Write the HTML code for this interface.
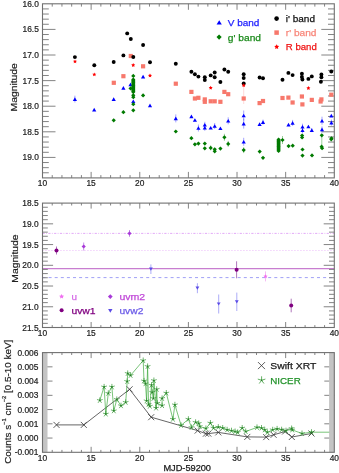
<!DOCTYPE html>
<html><head><meta charset="utf-8"><style>
html,body{margin:0;padding:0;background:#fff;width:339px;height:473px;overflow:hidden}
svg{display:block;will-change:transform;font-family:"Liberation Sans",sans-serif}
</style></head><body>
<svg width="339" height="473" viewBox="0 0 339 473" font-family="Liberation Sans, sans-serif"><g><rect width="339" height="473" fill="#fff"/><line x1="52.23" y1="3.80" x2="52.23" y2="6.60" stroke="#848484" stroke-width="1" />
<line x1="52.23" y1="177.90" x2="52.23" y2="175.10" stroke="#848484" stroke-width="1" />
<line x1="61.95" y1="3.80" x2="61.95" y2="6.60" stroke="#848484" stroke-width="1" />
<line x1="61.95" y1="177.90" x2="61.95" y2="175.10" stroke="#848484" stroke-width="1" />
<line x1="71.68" y1="3.80" x2="71.68" y2="6.60" stroke="#848484" stroke-width="1" />
<line x1="71.68" y1="177.90" x2="71.68" y2="175.10" stroke="#848484" stroke-width="1" />
<line x1="81.41" y1="3.80" x2="81.41" y2="6.60" stroke="#848484" stroke-width="1" />
<line x1="81.41" y1="177.90" x2="81.41" y2="175.10" stroke="#848484" stroke-width="1" />
<line x1="91.13" y1="3.80" x2="91.13" y2="9.80" stroke="#848484" stroke-width="1" />
<line x1="91.13" y1="177.90" x2="91.13" y2="171.90" stroke="#848484" stroke-width="1" />
<line x1="100.86" y1="3.80" x2="100.86" y2="6.60" stroke="#848484" stroke-width="1" />
<line x1="100.86" y1="177.90" x2="100.86" y2="175.10" stroke="#848484" stroke-width="1" />
<line x1="110.59" y1="3.80" x2="110.59" y2="6.60" stroke="#848484" stroke-width="1" />
<line x1="110.59" y1="177.90" x2="110.59" y2="175.10" stroke="#848484" stroke-width="1" />
<line x1="120.31" y1="3.80" x2="120.31" y2="6.60" stroke="#848484" stroke-width="1" />
<line x1="120.31" y1="177.90" x2="120.31" y2="175.10" stroke="#848484" stroke-width="1" />
<line x1="130.04" y1="3.80" x2="130.04" y2="6.60" stroke="#848484" stroke-width="1" />
<line x1="130.04" y1="177.90" x2="130.04" y2="175.10" stroke="#848484" stroke-width="1" />
<line x1="139.77" y1="3.80" x2="139.77" y2="9.80" stroke="#848484" stroke-width="1" />
<line x1="139.77" y1="177.90" x2="139.77" y2="171.90" stroke="#848484" stroke-width="1" />
<line x1="149.49" y1="3.80" x2="149.49" y2="6.60" stroke="#848484" stroke-width="1" />
<line x1="149.49" y1="177.90" x2="149.49" y2="175.10" stroke="#848484" stroke-width="1" />
<line x1="159.22" y1="3.80" x2="159.22" y2="6.60" stroke="#848484" stroke-width="1" />
<line x1="159.22" y1="177.90" x2="159.22" y2="175.10" stroke="#848484" stroke-width="1" />
<line x1="168.95" y1="3.80" x2="168.95" y2="6.60" stroke="#848484" stroke-width="1" />
<line x1="168.95" y1="177.90" x2="168.95" y2="175.10" stroke="#848484" stroke-width="1" />
<line x1="178.67" y1="3.80" x2="178.67" y2="6.60" stroke="#848484" stroke-width="1" />
<line x1="178.67" y1="177.90" x2="178.67" y2="175.10" stroke="#848484" stroke-width="1" />
<line x1="188.40" y1="3.80" x2="188.40" y2="9.80" stroke="#848484" stroke-width="1" />
<line x1="188.40" y1="177.90" x2="188.40" y2="171.90" stroke="#848484" stroke-width="1" />
<line x1="198.13" y1="3.80" x2="198.13" y2="6.60" stroke="#848484" stroke-width="1" />
<line x1="198.13" y1="177.90" x2="198.13" y2="175.10" stroke="#848484" stroke-width="1" />
<line x1="207.85" y1="3.80" x2="207.85" y2="6.60" stroke="#848484" stroke-width="1" />
<line x1="207.85" y1="177.90" x2="207.85" y2="175.10" stroke="#848484" stroke-width="1" />
<line x1="217.58" y1="3.80" x2="217.58" y2="6.60" stroke="#848484" stroke-width="1" />
<line x1="217.58" y1="177.90" x2="217.58" y2="175.10" stroke="#848484" stroke-width="1" />
<line x1="227.31" y1="3.80" x2="227.31" y2="6.60" stroke="#848484" stroke-width="1" />
<line x1="227.31" y1="177.90" x2="227.31" y2="175.10" stroke="#848484" stroke-width="1" />
<line x1="237.03" y1="3.80" x2="237.03" y2="9.80" stroke="#848484" stroke-width="1" />
<line x1="237.03" y1="177.90" x2="237.03" y2="171.90" stroke="#848484" stroke-width="1" />
<line x1="246.76" y1="3.80" x2="246.76" y2="6.60" stroke="#848484" stroke-width="1" />
<line x1="246.76" y1="177.90" x2="246.76" y2="175.10" stroke="#848484" stroke-width="1" />
<line x1="256.49" y1="3.80" x2="256.49" y2="6.60" stroke="#848484" stroke-width="1" />
<line x1="256.49" y1="177.90" x2="256.49" y2="175.10" stroke="#848484" stroke-width="1" />
<line x1="266.21" y1="3.80" x2="266.21" y2="6.60" stroke="#848484" stroke-width="1" />
<line x1="266.21" y1="177.90" x2="266.21" y2="175.10" stroke="#848484" stroke-width="1" />
<line x1="275.94" y1="3.80" x2="275.94" y2="6.60" stroke="#848484" stroke-width="1" />
<line x1="275.94" y1="177.90" x2="275.94" y2="175.10" stroke="#848484" stroke-width="1" />
<line x1="285.67" y1="3.80" x2="285.67" y2="9.80" stroke="#848484" stroke-width="1" />
<line x1="285.67" y1="177.90" x2="285.67" y2="171.90" stroke="#848484" stroke-width="1" />
<line x1="295.39" y1="3.80" x2="295.39" y2="6.60" stroke="#848484" stroke-width="1" />
<line x1="295.39" y1="177.90" x2="295.39" y2="175.10" stroke="#848484" stroke-width="1" />
<line x1="305.12" y1="3.80" x2="305.12" y2="6.60" stroke="#848484" stroke-width="1" />
<line x1="305.12" y1="177.90" x2="305.12" y2="175.10" stroke="#848484" stroke-width="1" />
<line x1="314.85" y1="3.80" x2="314.85" y2="6.60" stroke="#848484" stroke-width="1" />
<line x1="314.85" y1="177.90" x2="314.85" y2="175.10" stroke="#848484" stroke-width="1" />
<line x1="324.57" y1="3.80" x2="324.57" y2="6.60" stroke="#848484" stroke-width="1" />
<line x1="324.57" y1="177.90" x2="324.57" y2="175.10" stroke="#848484" stroke-width="1" />
<line x1="42.50" y1="8.92" x2="48.80" y2="8.92" stroke="#848484" stroke-width="1" />
<line x1="334.30" y1="8.92" x2="328.00" y2="8.92" stroke="#848484" stroke-width="1" />
<line x1="42.50" y1="14.04" x2="48.80" y2="14.04" stroke="#848484" stroke-width="1" />
<line x1="334.30" y1="14.04" x2="328.00" y2="14.04" stroke="#848484" stroke-width="1" />
<line x1="42.50" y1="19.16" x2="48.80" y2="19.16" stroke="#848484" stroke-width="1" />
<line x1="334.30" y1="19.16" x2="328.00" y2="19.16" stroke="#848484" stroke-width="1" />
<line x1="42.50" y1="24.28" x2="48.80" y2="24.28" stroke="#848484" stroke-width="1" />
<line x1="334.30" y1="24.28" x2="328.00" y2="24.28" stroke="#848484" stroke-width="1" />
<line x1="42.50" y1="29.40" x2="55.50" y2="29.40" stroke="#848484" stroke-width="1" />
<line x1="334.30" y1="29.40" x2="321.30" y2="29.40" stroke="#848484" stroke-width="1" />
<line x1="42.50" y1="34.52" x2="48.80" y2="34.52" stroke="#848484" stroke-width="1" />
<line x1="334.30" y1="34.52" x2="328.00" y2="34.52" stroke="#848484" stroke-width="1" />
<line x1="42.50" y1="39.64" x2="48.80" y2="39.64" stroke="#848484" stroke-width="1" />
<line x1="334.30" y1="39.64" x2="328.00" y2="39.64" stroke="#848484" stroke-width="1" />
<line x1="42.50" y1="44.76" x2="48.80" y2="44.76" stroke="#848484" stroke-width="1" />
<line x1="334.30" y1="44.76" x2="328.00" y2="44.76" stroke="#848484" stroke-width="1" />
<line x1="42.50" y1="49.89" x2="48.80" y2="49.89" stroke="#848484" stroke-width="1" />
<line x1="334.30" y1="49.89" x2="328.00" y2="49.89" stroke="#848484" stroke-width="1" />
<line x1="42.50" y1="55.01" x2="55.50" y2="55.01" stroke="#848484" stroke-width="1" />
<line x1="334.30" y1="55.01" x2="321.30" y2="55.01" stroke="#848484" stroke-width="1" />
<line x1="42.50" y1="60.13" x2="48.80" y2="60.13" stroke="#848484" stroke-width="1" />
<line x1="334.30" y1="60.13" x2="328.00" y2="60.13" stroke="#848484" stroke-width="1" />
<line x1="42.50" y1="65.25" x2="48.80" y2="65.25" stroke="#848484" stroke-width="1" />
<line x1="334.30" y1="65.25" x2="328.00" y2="65.25" stroke="#848484" stroke-width="1" />
<line x1="42.50" y1="70.37" x2="48.80" y2="70.37" stroke="#848484" stroke-width="1" />
<line x1="334.30" y1="70.37" x2="328.00" y2="70.37" stroke="#848484" stroke-width="1" />
<line x1="42.50" y1="75.49" x2="48.80" y2="75.49" stroke="#848484" stroke-width="1" />
<line x1="334.30" y1="75.49" x2="328.00" y2="75.49" stroke="#848484" stroke-width="1" />
<line x1="42.50" y1="80.61" x2="55.50" y2="80.61" stroke="#848484" stroke-width="1" />
<line x1="334.30" y1="80.61" x2="321.30" y2="80.61" stroke="#848484" stroke-width="1" />
<line x1="42.50" y1="85.73" x2="48.80" y2="85.73" stroke="#848484" stroke-width="1" />
<line x1="334.30" y1="85.73" x2="328.00" y2="85.73" stroke="#848484" stroke-width="1" />
<line x1="42.50" y1="90.85" x2="48.80" y2="90.85" stroke="#848484" stroke-width="1" />
<line x1="334.30" y1="90.85" x2="328.00" y2="90.85" stroke="#848484" stroke-width="1" />
<line x1="42.50" y1="95.97" x2="48.80" y2="95.97" stroke="#848484" stroke-width="1" />
<line x1="334.30" y1="95.97" x2="328.00" y2="95.97" stroke="#848484" stroke-width="1" />
<line x1="42.50" y1="101.09" x2="48.80" y2="101.09" stroke="#848484" stroke-width="1" />
<line x1="334.30" y1="101.09" x2="328.00" y2="101.09" stroke="#848484" stroke-width="1" />
<line x1="42.50" y1="106.21" x2="55.50" y2="106.21" stroke="#848484" stroke-width="1" />
<line x1="334.30" y1="106.21" x2="321.30" y2="106.21" stroke="#848484" stroke-width="1" />
<line x1="42.50" y1="111.33" x2="48.80" y2="111.33" stroke="#848484" stroke-width="1" />
<line x1="334.30" y1="111.33" x2="328.00" y2="111.33" stroke="#848484" stroke-width="1" />
<line x1="42.50" y1="116.45" x2="48.80" y2="116.45" stroke="#848484" stroke-width="1" />
<line x1="334.30" y1="116.45" x2="328.00" y2="116.45" stroke="#848484" stroke-width="1" />
<line x1="42.50" y1="121.57" x2="48.80" y2="121.57" stroke="#848484" stroke-width="1" />
<line x1="334.30" y1="121.57" x2="328.00" y2="121.57" stroke="#848484" stroke-width="1" />
<line x1="42.50" y1="126.69" x2="48.80" y2="126.69" stroke="#848484" stroke-width="1" />
<line x1="334.30" y1="126.69" x2="328.00" y2="126.69" stroke="#848484" stroke-width="1" />
<line x1="42.50" y1="131.81" x2="55.50" y2="131.81" stroke="#848484" stroke-width="1" />
<line x1="334.30" y1="131.81" x2="321.30" y2="131.81" stroke="#848484" stroke-width="1" />
<line x1="42.50" y1="136.94" x2="48.80" y2="136.94" stroke="#848484" stroke-width="1" />
<line x1="334.30" y1="136.94" x2="328.00" y2="136.94" stroke="#848484" stroke-width="1" />
<line x1="42.50" y1="142.06" x2="48.80" y2="142.06" stroke="#848484" stroke-width="1" />
<line x1="334.30" y1="142.06" x2="328.00" y2="142.06" stroke="#848484" stroke-width="1" />
<line x1="42.50" y1="147.18" x2="48.80" y2="147.18" stroke="#848484" stroke-width="1" />
<line x1="334.30" y1="147.18" x2="328.00" y2="147.18" stroke="#848484" stroke-width="1" />
<line x1="42.50" y1="152.30" x2="48.80" y2="152.30" stroke="#848484" stroke-width="1" />
<line x1="334.30" y1="152.30" x2="328.00" y2="152.30" stroke="#848484" stroke-width="1" />
<line x1="42.50" y1="157.42" x2="55.50" y2="157.42" stroke="#848484" stroke-width="1" />
<line x1="334.30" y1="157.42" x2="321.30" y2="157.42" stroke="#848484" stroke-width="1" />
<line x1="42.50" y1="162.54" x2="48.80" y2="162.54" stroke="#848484" stroke-width="1" />
<line x1="334.30" y1="162.54" x2="328.00" y2="162.54" stroke="#848484" stroke-width="1" />
<line x1="42.50" y1="167.66" x2="48.80" y2="167.66" stroke="#848484" stroke-width="1" />
<line x1="334.30" y1="167.66" x2="328.00" y2="167.66" stroke="#848484" stroke-width="1" />
<line x1="42.50" y1="172.78" x2="48.80" y2="172.78" stroke="#848484" stroke-width="1" />
<line x1="334.30" y1="172.78" x2="328.00" y2="172.78" stroke="#848484" stroke-width="1" />
<text x="38.80" y="6.80" font-size="8.4" text-anchor="end" fill="#222" stroke="#222" stroke-width="0.2">16.0</text>
<text x="38.80" y="32.40" font-size="8.4" text-anchor="end" fill="#222" stroke="#222" stroke-width="0.2">16.5</text>
<text x="38.80" y="58.01" font-size="8.4" text-anchor="end" fill="#222" stroke="#222" stroke-width="0.2">17.0</text>
<text x="38.80" y="83.61" font-size="8.4" text-anchor="end" fill="#222" stroke="#222" stroke-width="0.2">17.5</text>
<text x="38.80" y="109.21" font-size="8.4" text-anchor="end" fill="#222" stroke="#222" stroke-width="0.2">18.0</text>
<text x="38.80" y="134.81" font-size="8.4" text-anchor="end" fill="#222" stroke="#222" stroke-width="0.2">18.5</text>
<text x="38.80" y="160.42" font-size="8.4" text-anchor="end" fill="#222" stroke="#222" stroke-width="0.2">19.0</text>
<rect x="42.50" y="3.80" width="291.80" height="174.10" fill="none" stroke="#707070" stroke-width="1.1"/>
<text x="42.50" y="185.80" font-size="8.4" text-anchor="middle" fill="#222" stroke="#222" stroke-width="0.2">10</text>
<text x="91.13" y="185.80" font-size="8.4" text-anchor="middle" fill="#222" stroke="#222" stroke-width="0.2">15</text>
<text x="139.77" y="185.80" font-size="8.4" text-anchor="middle" fill="#222" stroke="#222" stroke-width="0.2">20</text>
<text x="188.40" y="185.80" font-size="8.4" text-anchor="middle" fill="#222" stroke="#222" stroke-width="0.2">25</text>
<text x="237.03" y="185.80" font-size="8.4" text-anchor="middle" fill="#222" stroke="#222" stroke-width="0.2">30</text>
<text x="285.67" y="185.80" font-size="8.4" text-anchor="middle" fill="#222" stroke="#222" stroke-width="0.2">35</text>
<text x="334.30" y="185.80" font-size="8.4" text-anchor="middle" fill="#222" stroke="#222" stroke-width="0.2">40</text>
<line x1="243.70" y1="85.40" x2="243.70" y2="104.00" stroke="#ff7070" stroke-width="0.8" stroke-opacity="0.35"/>
<line x1="321.80" y1="135.30" x2="321.80" y2="148.00" stroke="#2a9a2a" stroke-width="0.8" stroke-opacity="0.6"/>
<line x1="74.90" y1="95.70" x2="74.90" y2="102.50" stroke="#4040ff" stroke-width="0.8" stroke-opacity="0.6"/>
<line x1="175.80" y1="114.40" x2="175.80" y2="122.40" stroke="#4040ff" stroke-width="0.8" stroke-opacity="0.6"/>
<line x1="198.40" y1="124.50" x2="198.40" y2="131.50" stroke="#4040ff" stroke-width="0.8" stroke-opacity="0.6"/>
<line x1="204.80" y1="121.80" x2="204.80" y2="127.80" stroke="#4040ff" stroke-width="0.8" stroke-opacity="0.6"/>
<line x1="204.80" y1="124.80" x2="204.80" y2="130.80" stroke="#4040ff" stroke-width="0.8" stroke-opacity="0.6"/>
<line x1="214.70" y1="123.00" x2="214.70" y2="129.00" stroke="#4040ff" stroke-width="0.8" stroke-opacity="0.6"/>
<line x1="228.20" y1="117.30" x2="228.20" y2="124.30" stroke="#4040ff" stroke-width="0.8" stroke-opacity="0.6"/>
<line x1="243.70" y1="110.50" x2="243.70" y2="120.50" stroke="#4040ff" stroke-width="0.8" stroke-opacity="0.6"/>
<line x1="243.70" y1="118.60" x2="243.70" y2="128.60" stroke="#4040ff" stroke-width="0.8" stroke-opacity="0.6"/>
<line x1="243.70" y1="137.80" x2="243.70" y2="145.80" stroke="#4040ff" stroke-width="0.8" stroke-opacity="0.6"/>
<line x1="263.00" y1="119.60" x2="263.00" y2="124.60" stroke="#4040ff" stroke-width="0.8" stroke-opacity="0.6"/>
<line x1="292.60" y1="119.90" x2="292.60" y2="125.90" stroke="#4040ff" stroke-width="0.8" stroke-opacity="0.6"/>
<line x1="302.50" y1="123.70" x2="302.50" y2="129.70" stroke="#4040ff" stroke-width="0.8" stroke-opacity="0.6"/>
<line x1="302.50" y1="127.30" x2="302.50" y2="133.30" stroke="#4040ff" stroke-width="0.8" stroke-opacity="0.6"/>
<line x1="311.80" y1="128.10" x2="311.80" y2="132.10" stroke="#4040ff" stroke-width="0.8" stroke-opacity="0.6"/>
<line x1="322.00" y1="116.70" x2="322.00" y2="124.70" stroke="#4040ff" stroke-width="0.8" stroke-opacity="0.6"/>
<line x1="322.00" y1="126.40" x2="322.00" y2="132.40" stroke="#4040ff" stroke-width="0.8" stroke-opacity="0.6"/>
<line x1="331.40" y1="119.60" x2="331.40" y2="125.60" stroke="#4040ff" stroke-width="0.8" stroke-opacity="0.6"/>
<line x1="210.70" y1="145.40" x2="210.70" y2="150.40" stroke="#2a9a2a" stroke-width="0.8" stroke-opacity="0.6"/>
<line x1="224.40" y1="133.80" x2="224.40" y2="140.80" stroke="#2a9a2a" stroke-width="0.8" stroke-opacity="0.6"/>
<line x1="228.20" y1="140.90" x2="228.20" y2="146.90" stroke="#2a9a2a" stroke-width="0.8" stroke-opacity="0.6"/>
<line x1="243.70" y1="147.10" x2="243.70" y2="153.10" stroke="#2a9a2a" stroke-width="0.8" stroke-opacity="0.6"/>
<line x1="282.50" y1="136.00" x2="282.50" y2="144.00" stroke="#2a9a2a" stroke-width="0.8" stroke-opacity="0.6"/>
<rect x="111.70" y="80.70" width="4.2" height="4.2" fill="#f7786c"/>
<rect x="121.30" y="74.10" width="4.2" height="4.2" fill="#f7786c"/>
<rect x="128.70" y="53.90" width="4.2" height="4.2" fill="#f7786c"/>
<rect x="141.00" y="64.20" width="4.2" height="4.2" fill="#f7786c"/>
<rect x="173.70" y="81.60" width="4.2" height="4.2" fill="#f7786c"/>
<rect x="189.30" y="89.80" width="4.2" height="4.2" fill="#f7786c"/>
<rect x="192.80" y="96.40" width="4.2" height="4.2" fill="#f7786c"/>
<rect x="196.30" y="95.70" width="4.2" height="4.2" fill="#f7786c"/>
<rect x="202.70" y="97.30" width="4.2" height="4.2" fill="#f7786c"/>
<rect x="202.70" y="99.70" width="4.2" height="4.2" fill="#f7786c"/>
<rect x="208.60" y="99.20" width="4.2" height="4.2" fill="#f7786c"/>
<rect x="212.60" y="99.20" width="4.2" height="4.2" fill="#f7786c"/>
<rect x="218.30" y="99.70" width="4.2" height="4.2" fill="#f7786c"/>
<rect x="222.30" y="89.80" width="4.2" height="4.2" fill="#f7786c"/>
<rect x="226.10" y="92.10" width="4.2" height="4.2" fill="#f7786c"/>
<rect x="241.60" y="96.40" width="4.2" height="4.2" fill="#f7786c"/>
<rect x="257.50" y="101.00" width="4.2" height="4.2" fill="#f7786c"/>
<rect x="260.90" y="98.90" width="4.2" height="4.2" fill="#f7786c"/>
<rect x="280.40" y="95.90" width="4.2" height="4.2" fill="#f7786c"/>
<rect x="286.30" y="95.50" width="4.2" height="4.2" fill="#f7786c"/>
<rect x="290.50" y="100.40" width="4.2" height="4.2" fill="#f7786c"/>
<rect x="299.80" y="94.40" width="4.2" height="4.2" fill="#f7786c"/>
<rect x="300.30" y="102.30" width="4.2" height="4.2" fill="#f7786c"/>
<rect x="309.70" y="97.80" width="4.2" height="4.2" fill="#f7786c"/>
<rect x="319.30" y="97.30" width="4.2" height="4.2" fill="#f7786c"/>
<rect x="318.50" y="99.40" width="4.2" height="4.2" fill="#f7786c"/>
<rect x="329.20" y="92.60" width="4.2" height="4.2" fill="#f7786c"/>
<circle cx="74.90" cy="57.10" r="1.95" fill="#000"/>
<circle cx="94.30" cy="65.20" r="1.95" fill="#000"/>
<circle cx="113.70" cy="62.00" r="1.95" fill="#000"/>
<circle cx="123.40" cy="55.40" r="1.95" fill="#000"/>
<circle cx="127.20" cy="33.40" r="1.95" fill="#000"/>
<circle cx="130.80" cy="39.00" r="1.95" fill="#000"/>
<circle cx="133.30" cy="57.00" r="1.95" fill="#000"/>
<circle cx="143.10" cy="45.00" r="1.95" fill="#000"/>
<circle cx="150.00" cy="62.20" r="1.95" fill="#000"/>
<circle cx="175.80" cy="63.70" r="1.95" fill="#000"/>
<circle cx="191.40" cy="71.80" r="1.95" fill="#000"/>
<circle cx="194.90" cy="74.20" r="1.95" fill="#000"/>
<circle cx="198.40" cy="76.60" r="1.95" fill="#000"/>
<circle cx="204.80" cy="77.30" r="1.95" fill="#000"/>
<circle cx="204.80" cy="80.10" r="1.95" fill="#000"/>
<circle cx="210.70" cy="75.40" r="1.95" fill="#000"/>
<circle cx="214.70" cy="72.50" r="1.95" fill="#000"/>
<circle cx="214.70" cy="77.30" r="1.95" fill="#000"/>
<circle cx="220.40" cy="82.00" r="1.95" fill="#000"/>
<circle cx="224.40" cy="69.50" r="1.95" fill="#000"/>
<circle cx="228.20" cy="71.80" r="1.95" fill="#000"/>
<circle cx="243.70" cy="74.30" r="1.95" fill="#000"/>
<circle cx="243.70" cy="78.00" r="1.95" fill="#000"/>
<circle cx="243.70" cy="83.40" r="1.95" fill="#000"/>
<circle cx="259.60" cy="77.50" r="1.95" fill="#000"/>
<circle cx="263.00" cy="78.30" r="1.95" fill="#000"/>
<circle cx="282.50" cy="79.80" r="1.95" fill="#000"/>
<circle cx="288.40" cy="72.90" r="1.95" fill="#000"/>
<circle cx="292.60" cy="75.10" r="1.95" fill="#000"/>
<circle cx="301.90" cy="73.80" r="1.95" fill="#000"/>
<circle cx="301.90" cy="77.00" r="1.95" fill="#000"/>
<circle cx="302.40" cy="79.50" r="1.95" fill="#000"/>
<circle cx="308.40" cy="78.90" r="1.95" fill="#000"/>
<circle cx="311.80" cy="76.40" r="1.95" fill="#000"/>
<circle cx="321.40" cy="74.50" r="1.95" fill="#000"/>
<circle cx="321.40" cy="77.20" r="1.95" fill="#000"/>
<circle cx="320.90" cy="81.80" r="1.95" fill="#000"/>
<circle cx="331.30" cy="71.50" r="1.95" fill="#000"/>
<polygon points="75.00,59.40 75.62,60.65 77.00,60.85 76.00,61.82 76.23,63.20 75.00,62.55 73.77,63.20 74.00,61.82 73.00,60.85 74.38,60.65" fill="#ff0000"/>
<polygon points="94.30,72.40 94.92,73.65 96.30,73.85 95.30,74.82 95.53,76.20 94.30,75.55 93.07,76.20 93.30,74.82 92.30,73.85 93.68,73.65" fill="#ff0000"/>
<polygon points="133.20,63.10 133.82,64.35 135.20,64.55 134.20,65.52 134.43,66.90 133.20,66.25 131.97,66.90 132.20,65.52 131.20,64.55 132.58,64.35" fill="#ff0000"/>
<polygon points="150.00,73.50 150.62,74.75 152.00,74.95 151.00,75.92 151.23,77.30 150.00,76.65 148.77,77.30 149.00,75.92 148.00,74.95 149.38,74.75" fill="#ff0000"/>
<polygon points="210.70,85.80 211.32,87.05 212.70,87.25 211.70,88.22 211.93,89.60 210.70,88.95 209.47,89.60 209.70,88.22 208.70,87.25 210.08,87.05" fill="#ff0000"/>
<polygon points="243.70,83.30 244.32,84.55 245.70,84.75 244.70,85.72 244.93,87.10 243.70,86.45 242.47,87.10 242.70,85.72 241.70,84.75 243.08,84.55" fill="#ff0000"/>
<polygon points="308.40,86.10 309.02,87.35 310.40,87.55 309.40,88.52 309.63,89.90 308.40,89.25 307.17,89.90 307.40,88.52 306.40,87.55 307.78,87.35" fill="#ff0000"/>
<polygon points="72.80,100.88 77.00,100.88 74.90,97.31" fill="#0000ff"/>
<polygon points="92.10,111.38 96.30,111.38 94.20,107.81" fill="#0000ff"/>
<polygon points="111.60,100.88 115.80,100.88 113.70,97.31" fill="#0000ff"/>
<polygon points="121.30,89.69 125.50,89.69 123.40,86.12" fill="#0000ff"/>
<polygon points="128.40,86.19 132.60,86.19 130.50,82.62" fill="#0000ff"/>
<polygon points="131.20,102.98 135.40,102.98 133.30,99.42" fill="#0000ff"/>
<polygon points="141.00,78.38 145.20,78.38 143.10,74.81" fill="#0000ff"/>
<polygon points="147.90,107.19 152.10,107.19 150.00,103.62" fill="#0000ff"/>
<polygon points="173.70,120.19 177.90,120.19 175.80,116.62" fill="#0000ff"/>
<polygon points="189.30,118.19 193.50,118.19 191.40,114.62" fill="#0000ff"/>
<polygon points="192.80,121.78 197.00,121.78 194.90,118.22" fill="#0000ff"/>
<polygon points="196.30,129.78 200.50,129.78 198.40,126.22" fill="#0000ff"/>
<polygon points="202.70,126.58 206.90,126.58 204.80,123.02" fill="#0000ff"/>
<polygon points="202.70,129.59 206.90,129.59 204.80,126.02" fill="#0000ff"/>
<polygon points="208.60,129.59 212.80,129.59 210.70,126.02" fill="#0000ff"/>
<polygon points="212.60,127.78 216.80,127.78 214.70,124.22" fill="#0000ff"/>
<polygon points="218.30,130.09 222.50,130.09 220.40,126.52" fill="#0000ff"/>
<polygon points="226.10,122.58 230.30,122.58 228.20,119.02" fill="#0000ff"/>
<polygon points="241.60,117.28 245.80,117.28 243.70,113.72" fill="#0000ff"/>
<polygon points="241.60,125.38 245.80,125.38 243.70,121.81" fill="#0000ff"/>
<polygon points="241.60,143.59 245.80,143.59 243.70,140.02" fill="#0000ff"/>
<polygon points="257.50,125.88 261.70,125.88 259.60,122.31" fill="#0000ff"/>
<polygon points="260.90,123.88 265.10,123.88 263.00,120.31" fill="#0000ff"/>
<polygon points="286.40,126.38 290.60,126.38 288.50,122.81" fill="#0000ff"/>
<polygon points="290.50,124.69 294.70,124.69 292.60,121.12" fill="#0000ff"/>
<polygon points="300.40,128.49 304.60,128.49 302.50,124.92" fill="#0000ff"/>
<polygon points="300.40,132.09 304.60,132.09 302.50,128.52" fill="#0000ff"/>
<polygon points="306.30,128.28 310.50,128.28 308.40,124.72" fill="#0000ff"/>
<polygon points="309.70,131.88 313.90,131.88 311.80,128.31" fill="#0000ff"/>
<polygon points="319.90,122.48 324.10,122.48 322.00,118.92" fill="#0000ff"/>
<polygon points="319.90,131.19 324.10,131.19 322.00,127.62" fill="#0000ff"/>
<polygon points="329.30,124.38 333.50,124.38 331.40,120.81" fill="#0000ff"/>
<polygon points="329.20,117.38 333.40,117.38 331.30,113.81" fill="#0000ff"/>
<polygon points="113.70,118.20 115.80,120.30 113.70,122.40 111.60,120.30" fill="#007a00"/>
<polygon points="123.40,110.10 125.50,112.20 123.40,114.30 121.30,112.20" fill="#007a00"/>
<polygon points="130.60,86.30 132.70,88.40 130.60,90.50 128.50,88.40" fill="#007a00"/>
<polygon points="133.30,73.80 135.40,75.90 133.30,78.00 131.20,75.90" fill="#007a00"/>
<polygon points="133.30,77.40 135.40,79.50 133.30,81.60 131.20,79.50" fill="#007a00"/>
<polygon points="133.30,78.30 135.40,80.40 133.30,82.50 131.20,80.40" fill="#007a00"/>
<polygon points="133.30,79.20 135.40,81.30 133.30,83.40 131.20,81.30" fill="#007a00"/>
<polygon points="133.30,80.10 135.40,82.20 133.30,84.30 131.20,82.20" fill="#007a00"/>
<polygon points="133.30,81.00 135.40,83.10 133.30,85.20 131.20,83.10" fill="#007a00"/>
<polygon points="133.30,81.90 135.40,84.00 133.30,86.10 131.20,84.00" fill="#007a00"/>
<polygon points="133.30,82.80 135.40,84.90 133.30,87.00 131.20,84.90" fill="#007a00"/>
<polygon points="133.30,83.70 135.40,85.80 133.30,87.90 131.20,85.80" fill="#007a00"/>
<polygon points="133.30,84.60 135.40,86.70 133.30,88.80 131.20,86.70" fill="#007a00"/>
<polygon points="133.30,85.50 135.40,87.60 133.30,89.70 131.20,87.60" fill="#007a00"/>
<polygon points="133.30,86.40 135.40,88.50 133.30,90.60 131.20,88.50" fill="#007a00"/>
<polygon points="133.30,87.30 135.40,89.40 133.30,91.50 131.20,89.40" fill="#007a00"/>
<polygon points="133.30,88.20 135.40,90.30 133.30,92.40 131.20,90.30" fill="#007a00"/>
<polygon points="133.30,89.10 135.40,91.20 133.30,93.30 131.20,91.20" fill="#007a00"/>
<polygon points="133.30,90.00 135.40,92.10 133.30,94.20 131.20,92.10" fill="#007a00"/>
<polygon points="133.30,93.20 135.40,95.30 133.30,97.40 131.20,95.30" fill="#007a00"/>
<polygon points="133.30,95.10 135.40,97.20 133.30,99.30 131.20,97.20" fill="#007a00"/>
<polygon points="133.30,102.10 135.40,104.20 133.30,106.30 131.20,104.20" fill="#007a00"/>
<polygon points="133.30,108.20 135.40,110.30 133.30,112.40 131.20,110.30" fill="#007a00"/>
<polygon points="143.10,93.30 145.20,95.40 143.10,97.50 141.00,95.40" fill="#007a00"/>
<polygon points="175.80,129.40 177.90,131.50 175.80,133.60 173.70,131.50" fill="#007a00"/>
<polygon points="191.40,136.10 193.50,138.20 191.40,140.30 189.30,138.20" fill="#007a00"/>
<polygon points="194.90,142.20 197.00,144.30 194.90,146.40 192.80,144.30" fill="#007a00"/>
<polygon points="198.40,141.50 200.50,143.60 198.40,145.70 196.30,143.60" fill="#007a00"/>
<polygon points="204.80,141.50 206.90,143.60 204.80,145.70 202.70,143.60" fill="#007a00"/>
<polygon points="204.80,146.20 206.90,148.30 204.80,150.40 202.70,148.30" fill="#007a00"/>
<polygon points="210.70,145.80 212.80,147.90 210.70,150.00 208.60,147.90" fill="#007a00"/>
<polygon points="214.70,147.20 216.80,149.30 214.70,151.40 212.60,149.30" fill="#007a00"/>
<polygon points="214.70,149.20 216.80,151.30 214.70,153.40 212.60,151.30" fill="#007a00"/>
<polygon points="220.40,146.50 222.50,148.60 220.40,150.70 218.30,148.60" fill="#007a00"/>
<polygon points="224.40,135.20 226.50,137.30 224.40,139.40 222.30,137.30" fill="#007a00"/>
<polygon points="228.20,141.80 230.30,143.90 228.20,146.00 226.10,143.90" fill="#007a00"/>
<polygon points="243.70,148.00 245.80,150.10 243.70,152.20 241.60,150.10" fill="#007a00"/>
<polygon points="259.70,149.50 261.80,151.60 259.70,153.70 257.60,151.60" fill="#007a00"/>
<polygon points="263.00,155.70 265.10,157.80 263.00,159.90 260.90,157.80" fill="#007a00"/>
<polygon points="278.60,137.40 280.70,139.50 278.60,141.60 276.50,139.50" fill="#007a00"/>
<polygon points="278.60,138.35 280.70,140.45 278.60,142.55 276.50,140.45" fill="#007a00"/>
<polygon points="278.60,139.30 280.70,141.40 278.60,143.50 276.50,141.40" fill="#007a00"/>
<polygon points="278.60,140.25 280.70,142.35 278.60,144.45 276.50,142.35" fill="#007a00"/>
<polygon points="278.60,141.20 280.70,143.30 278.60,145.40 276.50,143.30" fill="#007a00"/>
<polygon points="278.60,142.15 280.70,144.25 278.60,146.35 276.50,144.25" fill="#007a00"/>
<polygon points="278.60,143.10 280.70,145.20 278.60,147.30 276.50,145.20" fill="#007a00"/>
<polygon points="278.60,144.05 280.70,146.15 278.60,148.25 276.50,146.15" fill="#007a00"/>
<polygon points="278.60,145.00 280.70,147.10 278.60,149.20 276.50,147.10" fill="#007a00"/>
<polygon points="278.60,145.95 280.70,148.05 278.60,150.15 276.50,148.05" fill="#007a00"/>
<polygon points="278.60,146.90 280.70,149.00 278.60,151.10 276.50,149.00" fill="#007a00"/>
<polygon points="278.60,147.85 280.70,149.95 278.60,152.05 276.50,149.95" fill="#007a00"/>
<polygon points="278.60,148.80 280.70,150.90 278.60,153.00 276.50,150.90" fill="#007a00"/>
<polygon points="282.50,137.90 284.60,140.00 282.50,142.10 280.40,140.00" fill="#007a00"/>
<polygon points="288.60,144.00 290.70,146.10 288.60,148.20 286.50,146.10" fill="#007a00"/>
<polygon points="292.70,143.60 294.80,145.70 292.70,147.80 290.60,145.70" fill="#007a00"/>
<polygon points="302.10,133.40 304.20,135.50 302.10,137.60 300.00,135.50" fill="#007a00"/>
<polygon points="302.10,135.40 304.20,137.50 302.10,139.60 300.00,137.50" fill="#007a00"/>
<polygon points="302.50,147.40 304.60,149.50 302.50,151.60 300.40,149.50" fill="#007a00"/>
<polygon points="302.50,153.50 304.60,155.60 302.50,157.70 300.40,155.60" fill="#007a00"/>
<polygon points="312.00,153.30 314.10,155.40 312.00,157.50 309.90,155.40" fill="#007a00"/>
<polygon points="321.80,133.20 323.90,135.30 321.80,137.40 319.70,135.30" fill="#007a00"/>
<polygon points="321.60,144.60 323.70,146.70 321.60,148.80 319.50,146.70" fill="#007a00"/>
<polygon points="322.10,146.10 324.20,148.20 322.10,150.30 320.00,148.20" fill="#007a00"/>
<polygon points="331.50,136.20 333.60,138.30 331.50,140.40 329.40,138.30" fill="#007a00"/>
<polygon points="331.20,137.20 333.30,139.30 331.20,141.40 329.10,139.30" fill="#007a00"/>
<polygon points="216.60,24.61 221.80,24.61 219.20,20.19" fill="#0000ff"/>
<text x="227.80" y="25.80" font-size="9.9" text-anchor="start" fill="#2020ff"  textLength="31.6" lengthAdjust="spacingAndGlyphs" stroke="#2020ff" stroke-width="0.25">V band</text>
<polygon points="219.10,34.50 221.70,37.10 219.10,39.70 216.50,37.10" fill="#007a00"/>
<text x="227.80" y="40.90" font-size="9.9" text-anchor="start" fill="#1a8a1a"  textLength="33.2" lengthAdjust="spacingAndGlyphs" stroke="#1a8a1a" stroke-width="0.25">g' band</text>
<circle cx="276.60" cy="18.60" r="2.3" fill="#000"/>
<text x="285.80" y="22.00" font-size="9.9" text-anchor="start" fill="#111"  textLength="29.2" lengthAdjust="spacingAndGlyphs" stroke="#111" stroke-width="0.25">i' band</text>
<rect x="274.35" y="30.35" width="4.5" height="4.5" fill="#f7786c"/>
<text x="285.80" y="36.20" font-size="9.9" text-anchor="start" fill="#f8877a"  textLength="30.7" lengthAdjust="spacingAndGlyphs" stroke="#f8877a" stroke-width="0.25">r' band</text>
<polygon points="276.70,44.30 277.46,45.85 279.17,46.10 277.94,47.30 278.23,49.00 276.70,48.20 275.17,49.00 275.46,47.30 274.23,46.10 275.94,45.85" fill="#ff0000"/>
<text x="285.80" y="50.00" font-size="9.9" text-anchor="start" fill="#f01010"  textLength="31.0" lengthAdjust="spacingAndGlyphs" stroke="#f01010" stroke-width="0.25">R band</text>
<text transform="translate(16.9,87.3) rotate(-90)" font-size="8.9" stroke="#222" stroke-width="0.2" textLength="48.3" lengthAdjust="spacingAndGlyphs" text-anchor="middle" fill="#222">Magnitude</text>
<line x1="42.5" y1="233.4" x2="334.3" y2="233.4" stroke="#e0a2f6" stroke-width="0.9" stroke-dasharray="2.2,1.4,0.8,1.4"/>
<line x1="42.5" y1="250.5" x2="334.3" y2="250.5" stroke="#e6aaf8" stroke-width="0.9" stroke-dasharray="0.9,2.1"/>
<line x1="42.5" y1="268.6" x2="334.3" y2="268.6" stroke="#c87ed0" stroke-width="1.1"/>
<line x1="42.5" y1="277.6" x2="334.3" y2="277.6" stroke="#a0a0f6" stroke-width="1" stroke-dasharray="3,3.1"/>
<line x1="52.23" y1="203.10" x2="52.23" y2="205.50" stroke="#848484" stroke-width="1" />
<line x1="52.23" y1="327.50" x2="52.23" y2="325.10" stroke="#848484" stroke-width="1" />
<line x1="61.95" y1="203.10" x2="61.95" y2="205.50" stroke="#848484" stroke-width="1" />
<line x1="61.95" y1="327.50" x2="61.95" y2="325.10" stroke="#848484" stroke-width="1" />
<line x1="71.68" y1="203.10" x2="71.68" y2="205.50" stroke="#848484" stroke-width="1" />
<line x1="71.68" y1="327.50" x2="71.68" y2="325.10" stroke="#848484" stroke-width="1" />
<line x1="81.41" y1="203.10" x2="81.41" y2="205.50" stroke="#848484" stroke-width="1" />
<line x1="81.41" y1="327.50" x2="81.41" y2="325.10" stroke="#848484" stroke-width="1" />
<line x1="91.13" y1="203.10" x2="91.13" y2="208.60" stroke="#848484" stroke-width="1" />
<line x1="91.13" y1="327.50" x2="91.13" y2="322.00" stroke="#848484" stroke-width="1" />
<line x1="100.86" y1="203.10" x2="100.86" y2="205.50" stroke="#848484" stroke-width="1" />
<line x1="100.86" y1="327.50" x2="100.86" y2="325.10" stroke="#848484" stroke-width="1" />
<line x1="110.59" y1="203.10" x2="110.59" y2="205.50" stroke="#848484" stroke-width="1" />
<line x1="110.59" y1="327.50" x2="110.59" y2="325.10" stroke="#848484" stroke-width="1" />
<line x1="120.31" y1="203.10" x2="120.31" y2="205.50" stroke="#848484" stroke-width="1" />
<line x1="120.31" y1="327.50" x2="120.31" y2="325.10" stroke="#848484" stroke-width="1" />
<line x1="130.04" y1="203.10" x2="130.04" y2="205.50" stroke="#848484" stroke-width="1" />
<line x1="130.04" y1="327.50" x2="130.04" y2="325.10" stroke="#848484" stroke-width="1" />
<line x1="139.77" y1="203.10" x2="139.77" y2="208.60" stroke="#848484" stroke-width="1" />
<line x1="139.77" y1="327.50" x2="139.77" y2="322.00" stroke="#848484" stroke-width="1" />
<line x1="149.49" y1="203.10" x2="149.49" y2="205.50" stroke="#848484" stroke-width="1" />
<line x1="149.49" y1="327.50" x2="149.49" y2="325.10" stroke="#848484" stroke-width="1" />
<line x1="159.22" y1="203.10" x2="159.22" y2="205.50" stroke="#848484" stroke-width="1" />
<line x1="159.22" y1="327.50" x2="159.22" y2="325.10" stroke="#848484" stroke-width="1" />
<line x1="168.95" y1="203.10" x2="168.95" y2="205.50" stroke="#848484" stroke-width="1" />
<line x1="168.95" y1="327.50" x2="168.95" y2="325.10" stroke="#848484" stroke-width="1" />
<line x1="178.67" y1="203.10" x2="178.67" y2="205.50" stroke="#848484" stroke-width="1" />
<line x1="178.67" y1="327.50" x2="178.67" y2="325.10" stroke="#848484" stroke-width="1" />
<line x1="188.40" y1="203.10" x2="188.40" y2="208.60" stroke="#848484" stroke-width="1" />
<line x1="188.40" y1="327.50" x2="188.40" y2="322.00" stroke="#848484" stroke-width="1" />
<line x1="198.13" y1="203.10" x2="198.13" y2="205.50" stroke="#848484" stroke-width="1" />
<line x1="198.13" y1="327.50" x2="198.13" y2="325.10" stroke="#848484" stroke-width="1" />
<line x1="207.85" y1="203.10" x2="207.85" y2="205.50" stroke="#848484" stroke-width="1" />
<line x1="207.85" y1="327.50" x2="207.85" y2="325.10" stroke="#848484" stroke-width="1" />
<line x1="217.58" y1="203.10" x2="217.58" y2="205.50" stroke="#848484" stroke-width="1" />
<line x1="217.58" y1="327.50" x2="217.58" y2="325.10" stroke="#848484" stroke-width="1" />
<line x1="227.31" y1="203.10" x2="227.31" y2="205.50" stroke="#848484" stroke-width="1" />
<line x1="227.31" y1="327.50" x2="227.31" y2="325.10" stroke="#848484" stroke-width="1" />
<line x1="237.03" y1="203.10" x2="237.03" y2="208.60" stroke="#848484" stroke-width="1" />
<line x1="237.03" y1="327.50" x2="237.03" y2="322.00" stroke="#848484" stroke-width="1" />
<line x1="246.76" y1="203.10" x2="246.76" y2="205.50" stroke="#848484" stroke-width="1" />
<line x1="246.76" y1="327.50" x2="246.76" y2="325.10" stroke="#848484" stroke-width="1" />
<line x1="256.49" y1="203.10" x2="256.49" y2="205.50" stroke="#848484" stroke-width="1" />
<line x1="256.49" y1="327.50" x2="256.49" y2="325.10" stroke="#848484" stroke-width="1" />
<line x1="266.21" y1="203.10" x2="266.21" y2="205.50" stroke="#848484" stroke-width="1" />
<line x1="266.21" y1="327.50" x2="266.21" y2="325.10" stroke="#848484" stroke-width="1" />
<line x1="275.94" y1="203.10" x2="275.94" y2="205.50" stroke="#848484" stroke-width="1" />
<line x1="275.94" y1="327.50" x2="275.94" y2="325.10" stroke="#848484" stroke-width="1" />
<line x1="285.67" y1="203.10" x2="285.67" y2="208.60" stroke="#848484" stroke-width="1" />
<line x1="285.67" y1="327.50" x2="285.67" y2="322.00" stroke="#848484" stroke-width="1" />
<line x1="295.39" y1="203.10" x2="295.39" y2="205.50" stroke="#848484" stroke-width="1" />
<line x1="295.39" y1="327.50" x2="295.39" y2="325.10" stroke="#848484" stroke-width="1" />
<line x1="305.12" y1="203.10" x2="305.12" y2="205.50" stroke="#848484" stroke-width="1" />
<line x1="305.12" y1="327.50" x2="305.12" y2="325.10" stroke="#848484" stroke-width="1" />
<line x1="314.85" y1="203.10" x2="314.85" y2="205.50" stroke="#848484" stroke-width="1" />
<line x1="314.85" y1="327.50" x2="314.85" y2="325.10" stroke="#848484" stroke-width="1" />
<line x1="324.57" y1="203.10" x2="324.57" y2="205.50" stroke="#848484" stroke-width="1" />
<line x1="324.57" y1="327.50" x2="324.57" y2="325.10" stroke="#848484" stroke-width="1" />
<line x1="42.50" y1="207.25" x2="47.80" y2="207.25" stroke="#848484" stroke-width="1" />
<line x1="334.30" y1="207.25" x2="329.00" y2="207.25" stroke="#848484" stroke-width="1" />
<line x1="42.50" y1="211.39" x2="47.80" y2="211.39" stroke="#848484" stroke-width="1" />
<line x1="334.30" y1="211.39" x2="329.00" y2="211.39" stroke="#848484" stroke-width="1" />
<line x1="42.50" y1="215.54" x2="47.80" y2="215.54" stroke="#848484" stroke-width="1" />
<line x1="334.30" y1="215.54" x2="329.00" y2="215.54" stroke="#848484" stroke-width="1" />
<line x1="42.50" y1="219.69" x2="47.80" y2="219.69" stroke="#848484" stroke-width="1" />
<line x1="334.30" y1="219.69" x2="329.00" y2="219.69" stroke="#848484" stroke-width="1" />
<line x1="42.50" y1="223.83" x2="53.10" y2="223.83" stroke="#848484" stroke-width="1" />
<line x1="334.30" y1="223.83" x2="323.70" y2="223.83" stroke="#848484" stroke-width="1" />
<line x1="42.50" y1="227.98" x2="47.80" y2="227.98" stroke="#848484" stroke-width="1" />
<line x1="334.30" y1="227.98" x2="329.00" y2="227.98" stroke="#848484" stroke-width="1" />
<line x1="42.50" y1="232.13" x2="47.80" y2="232.13" stroke="#848484" stroke-width="1" />
<line x1="334.30" y1="232.13" x2="329.00" y2="232.13" stroke="#848484" stroke-width="1" />
<line x1="42.50" y1="236.27" x2="47.80" y2="236.27" stroke="#848484" stroke-width="1" />
<line x1="334.30" y1="236.27" x2="329.00" y2="236.27" stroke="#848484" stroke-width="1" />
<line x1="42.50" y1="240.42" x2="47.80" y2="240.42" stroke="#848484" stroke-width="1" />
<line x1="334.30" y1="240.42" x2="329.00" y2="240.42" stroke="#848484" stroke-width="1" />
<line x1="42.50" y1="244.57" x2="53.10" y2="244.57" stroke="#848484" stroke-width="1" />
<line x1="334.30" y1="244.57" x2="323.70" y2="244.57" stroke="#848484" stroke-width="1" />
<line x1="42.50" y1="248.71" x2="47.80" y2="248.71" stroke="#848484" stroke-width="1" />
<line x1="334.30" y1="248.71" x2="329.00" y2="248.71" stroke="#848484" stroke-width="1" />
<line x1="42.50" y1="252.86" x2="47.80" y2="252.86" stroke="#848484" stroke-width="1" />
<line x1="334.30" y1="252.86" x2="329.00" y2="252.86" stroke="#848484" stroke-width="1" />
<line x1="42.50" y1="257.01" x2="47.80" y2="257.01" stroke="#848484" stroke-width="1" />
<line x1="334.30" y1="257.01" x2="329.00" y2="257.01" stroke="#848484" stroke-width="1" />
<line x1="42.50" y1="261.15" x2="47.80" y2="261.15" stroke="#848484" stroke-width="1" />
<line x1="334.30" y1="261.15" x2="329.00" y2="261.15" stroke="#848484" stroke-width="1" />
<line x1="42.50" y1="265.30" x2="53.10" y2="265.30" stroke="#848484" stroke-width="1" />
<line x1="334.30" y1="265.30" x2="323.70" y2="265.30" stroke="#848484" stroke-width="1" />
<line x1="42.50" y1="269.45" x2="47.80" y2="269.45" stroke="#848484" stroke-width="1" />
<line x1="334.30" y1="269.45" x2="329.00" y2="269.45" stroke="#848484" stroke-width="1" />
<line x1="42.50" y1="273.59" x2="47.80" y2="273.59" stroke="#848484" stroke-width="1" />
<line x1="334.30" y1="273.59" x2="329.00" y2="273.59" stroke="#848484" stroke-width="1" />
<line x1="42.50" y1="277.74" x2="47.80" y2="277.74" stroke="#848484" stroke-width="1" />
<line x1="334.30" y1="277.74" x2="329.00" y2="277.74" stroke="#848484" stroke-width="1" />
<line x1="42.50" y1="281.89" x2="47.80" y2="281.89" stroke="#848484" stroke-width="1" />
<line x1="334.30" y1="281.89" x2="329.00" y2="281.89" stroke="#848484" stroke-width="1" />
<line x1="42.50" y1="286.03" x2="53.10" y2="286.03" stroke="#848484" stroke-width="1" />
<line x1="334.30" y1="286.03" x2="323.70" y2="286.03" stroke="#848484" stroke-width="1" />
<line x1="42.50" y1="290.18" x2="47.80" y2="290.18" stroke="#848484" stroke-width="1" />
<line x1="334.30" y1="290.18" x2="329.00" y2="290.18" stroke="#848484" stroke-width="1" />
<line x1="42.50" y1="294.33" x2="47.80" y2="294.33" stroke="#848484" stroke-width="1" />
<line x1="334.30" y1="294.33" x2="329.00" y2="294.33" stroke="#848484" stroke-width="1" />
<line x1="42.50" y1="298.47" x2="47.80" y2="298.47" stroke="#848484" stroke-width="1" />
<line x1="334.30" y1="298.47" x2="329.00" y2="298.47" stroke="#848484" stroke-width="1" />
<line x1="42.50" y1="302.62" x2="47.80" y2="302.62" stroke="#848484" stroke-width="1" />
<line x1="334.30" y1="302.62" x2="329.00" y2="302.62" stroke="#848484" stroke-width="1" />
<line x1="42.50" y1="306.77" x2="53.10" y2="306.77" stroke="#848484" stroke-width="1" />
<line x1="334.30" y1="306.77" x2="323.70" y2="306.77" stroke="#848484" stroke-width="1" />
<line x1="42.50" y1="310.91" x2="47.80" y2="310.91" stroke="#848484" stroke-width="1" />
<line x1="334.30" y1="310.91" x2="329.00" y2="310.91" stroke="#848484" stroke-width="1" />
<line x1="42.50" y1="315.06" x2="47.80" y2="315.06" stroke="#848484" stroke-width="1" />
<line x1="334.30" y1="315.06" x2="329.00" y2="315.06" stroke="#848484" stroke-width="1" />
<line x1="42.50" y1="319.21" x2="47.80" y2="319.21" stroke="#848484" stroke-width="1" />
<line x1="334.30" y1="319.21" x2="329.00" y2="319.21" stroke="#848484" stroke-width="1" />
<line x1="42.50" y1="323.35" x2="47.80" y2="323.35" stroke="#848484" stroke-width="1" />
<line x1="334.30" y1="323.35" x2="329.00" y2="323.35" stroke="#848484" stroke-width="1" />
<text x="38.60" y="206.10" font-size="8.4" text-anchor="end" fill="#222" stroke="#222" stroke-width="0.2">18.5</text>
<text x="38.60" y="226.83" font-size="8.4" text-anchor="end" fill="#222" stroke="#222" stroke-width="0.2">19.0</text>
<text x="38.60" y="247.57" font-size="8.4" text-anchor="end" fill="#222" stroke="#222" stroke-width="0.2">19.5</text>
<text x="38.60" y="268.30" font-size="8.4" text-anchor="end" fill="#222" stroke="#222" stroke-width="0.2">20.0</text>
<text x="38.60" y="289.03" font-size="8.4" text-anchor="end" fill="#222" stroke="#222" stroke-width="0.2">20.5</text>
<text x="38.60" y="309.77" font-size="8.4" text-anchor="end" fill="#222" stroke="#222" stroke-width="0.2">21.0</text>
<text x="38.60" y="330.50" font-size="8.4" text-anchor="end" fill="#222" stroke="#222" stroke-width="0.2">21.5</text>
<rect x="42.50" y="203.10" width="291.80" height="124.40" fill="none" stroke="#707070" stroke-width="1.1"/>
<text x="42.50" y="335.80" font-size="8.4" text-anchor="middle" fill="#222" stroke="#222" stroke-width="0.2">10</text>
<text x="91.13" y="335.80" font-size="8.4" text-anchor="middle" fill="#222" stroke="#222" stroke-width="0.2">15</text>
<text x="139.77" y="335.80" font-size="8.4" text-anchor="middle" fill="#222" stroke="#222" stroke-width="0.2">20</text>
<text x="188.40" y="335.80" font-size="8.4" text-anchor="middle" fill="#222" stroke="#222" stroke-width="0.2">25</text>
<text x="237.03" y="335.80" font-size="8.4" text-anchor="middle" fill="#222" stroke="#222" stroke-width="0.2">30</text>
<text x="285.67" y="335.80" font-size="8.4" text-anchor="middle" fill="#222" stroke="#222" stroke-width="0.2">35</text>
<text x="334.30" y="335.80" font-size="8.4" text-anchor="middle" fill="#222" stroke="#222" stroke-width="0.2">40</text>
<line x1="56.50" y1="246.50" x2="56.50" y2="254.50" stroke="#9040a0" stroke-width="0.9" stroke-opacity="0.8"/>
<line x1="236.60" y1="261.30" x2="236.60" y2="278.30" stroke="#9040a0" stroke-width="0.9" stroke-opacity="0.8"/>
<line x1="291.20" y1="298.70" x2="291.20" y2="312.30" stroke="#9040a0" stroke-width="0.9" stroke-opacity="0.8"/>
<line x1="83.70" y1="242.50" x2="83.70" y2="250.50" stroke="#b060e0" stroke-width="0.9" stroke-opacity="0.8"/>
<line x1="129.50" y1="230.00" x2="129.50" y2="236.80" stroke="#b060e0" stroke-width="0.9" stroke-opacity="0.8"/>
<line x1="150.90" y1="264.40" x2="150.90" y2="274.00" stroke="#8c8cf4" stroke-width="0.9" stroke-opacity="0.8"/>
<line x1="197.40" y1="283.20" x2="197.40" y2="293.20" stroke="#8c8cf4" stroke-width="0.9" stroke-opacity="0.8"/>
<line x1="218.70" y1="294.50" x2="218.70" y2="313.50" stroke="#8c8cf4" stroke-width="0.9" stroke-opacity="0.8"/>
<line x1="236.80" y1="292.60" x2="236.80" y2="311.00" stroke="#8c8cf4" stroke-width="0.9" stroke-opacity="0.8"/>
<line x1="265.50" y1="271.40" x2="265.50" y2="281.40" stroke="#f0a0f0" stroke-width="0.9" stroke-opacity="0.8"/>
<circle cx="56.50" cy="250.50" r="2.0" fill="#800080"/>
<circle cx="236.60" cy="269.80" r="2.0" fill="#800080"/>
<circle cx="291.20" cy="305.50" r="2.0" fill="#800080"/>
<polygon points="83.70,244.40 85.80,246.50 83.70,248.60 81.60,246.50" fill="#a83ad8"/>
<polygon points="129.50,231.30 131.60,233.40 129.50,235.50 127.40,233.40" fill="#a83ad8"/>
<polygon points="149.00,267.58 152.80,267.58 150.90,270.81" fill="#5a4ae6"/>
<polygon points="195.50,286.58 199.30,286.58 197.40,289.81" fill="#5a4ae6"/>
<polygon points="216.80,302.38 220.60,302.38 218.70,305.62" fill="#5a4ae6"/>
<polygon points="234.90,300.19 238.70,300.19 236.80,303.42" fill="#5a4ae6"/>
<polygon points="265.50,274.20 266.15,275.51 267.59,275.72 266.55,276.74 266.79,278.18 265.50,277.50 264.21,278.18 264.45,276.74 263.41,275.72 264.85,275.51" fill="#f070f0"/>
<polygon points="61.60,293.90 62.36,295.45 64.07,295.70 62.84,296.90 63.13,298.60 61.60,297.80 60.07,298.60 60.36,296.90 59.13,295.70 60.84,295.45" fill="#f070f0"/>
<text x="71.40" y="299.80" font-size="9.9" text-anchor="start" fill="#d46ae6"  stroke="#d46ae6" stroke-width="0.25">u</text>
<circle cx="61.60" cy="310.20" r="2.0" fill="#800080"/>
<text x="71.40" y="313.80" font-size="9.9" text-anchor="start" fill="#800080"  textLength="24.2" lengthAdjust="spacingAndGlyphs" stroke="#800080" stroke-width="0.25">uvw1</text>
<polygon points="110.30,294.20 112.70,296.60 110.30,299.00 107.90,296.60" fill="#a83ad8"/>
<text x="119.40" y="300.00" font-size="9.9" text-anchor="start" fill="#c048d8"  textLength="25.8" lengthAdjust="spacingAndGlyphs" stroke="#c048d8" stroke-width="0.25">uvm2</text>
<polygon points="108.10,308.93 112.50,308.93 110.30,312.67" fill="#5a4ae6"/>
<text x="119.40" y="314.00" font-size="9.9" text-anchor="start" fill="#6a5ae8"  textLength="24.0" lengthAdjust="spacingAndGlyphs" stroke="#6a5ae8" stroke-width="0.25">uvw2</text>
<text transform="translate(17.5,258.6) rotate(-90)" font-size="8.9" stroke="#222" stroke-width="0.2" textLength="48.1" lengthAdjust="spacingAndGlyphs" text-anchor="middle" fill="#222">Magnitude</text>
<line x1="52.23" y1="352.60" x2="52.23" y2="355.00" stroke="#848484" stroke-width="1" />
<line x1="52.23" y1="452.30" x2="52.23" y2="449.90" stroke="#848484" stroke-width="1" />
<line x1="61.95" y1="352.60" x2="61.95" y2="355.00" stroke="#848484" stroke-width="1" />
<line x1="61.95" y1="452.30" x2="61.95" y2="449.90" stroke="#848484" stroke-width="1" />
<line x1="71.68" y1="352.60" x2="71.68" y2="355.00" stroke="#848484" stroke-width="1" />
<line x1="71.68" y1="452.30" x2="71.68" y2="449.90" stroke="#848484" stroke-width="1" />
<line x1="81.41" y1="352.60" x2="81.41" y2="355.00" stroke="#848484" stroke-width="1" />
<line x1="81.41" y1="452.30" x2="81.41" y2="449.90" stroke="#848484" stroke-width="1" />
<line x1="91.13" y1="352.60" x2="91.13" y2="358.10" stroke="#848484" stroke-width="1" />
<line x1="91.13" y1="452.30" x2="91.13" y2="446.80" stroke="#848484" stroke-width="1" />
<line x1="100.86" y1="352.60" x2="100.86" y2="355.00" stroke="#848484" stroke-width="1" />
<line x1="100.86" y1="452.30" x2="100.86" y2="449.90" stroke="#848484" stroke-width="1" />
<line x1="110.59" y1="352.60" x2="110.59" y2="355.00" stroke="#848484" stroke-width="1" />
<line x1="110.59" y1="452.30" x2="110.59" y2="449.90" stroke="#848484" stroke-width="1" />
<line x1="120.31" y1="352.60" x2="120.31" y2="355.00" stroke="#848484" stroke-width="1" />
<line x1="120.31" y1="452.30" x2="120.31" y2="449.90" stroke="#848484" stroke-width="1" />
<line x1="130.04" y1="352.60" x2="130.04" y2="355.00" stroke="#848484" stroke-width="1" />
<line x1="130.04" y1="452.30" x2="130.04" y2="449.90" stroke="#848484" stroke-width="1" />
<line x1="139.77" y1="352.60" x2="139.77" y2="358.10" stroke="#848484" stroke-width="1" />
<line x1="139.77" y1="452.30" x2="139.77" y2="446.80" stroke="#848484" stroke-width="1" />
<line x1="149.49" y1="352.60" x2="149.49" y2="355.00" stroke="#848484" stroke-width="1" />
<line x1="149.49" y1="452.30" x2="149.49" y2="449.90" stroke="#848484" stroke-width="1" />
<line x1="159.22" y1="352.60" x2="159.22" y2="355.00" stroke="#848484" stroke-width="1" />
<line x1="159.22" y1="452.30" x2="159.22" y2="449.90" stroke="#848484" stroke-width="1" />
<line x1="168.95" y1="352.60" x2="168.95" y2="355.00" stroke="#848484" stroke-width="1" />
<line x1="168.95" y1="452.30" x2="168.95" y2="449.90" stroke="#848484" stroke-width="1" />
<line x1="178.67" y1="352.60" x2="178.67" y2="355.00" stroke="#848484" stroke-width="1" />
<line x1="178.67" y1="452.30" x2="178.67" y2="449.90" stroke="#848484" stroke-width="1" />
<line x1="188.40" y1="352.60" x2="188.40" y2="358.10" stroke="#848484" stroke-width="1" />
<line x1="188.40" y1="452.30" x2="188.40" y2="446.80" stroke="#848484" stroke-width="1" />
<line x1="198.13" y1="352.60" x2="198.13" y2="355.00" stroke="#848484" stroke-width="1" />
<line x1="198.13" y1="452.30" x2="198.13" y2="449.90" stroke="#848484" stroke-width="1" />
<line x1="207.85" y1="352.60" x2="207.85" y2="355.00" stroke="#848484" stroke-width="1" />
<line x1="207.85" y1="452.30" x2="207.85" y2="449.90" stroke="#848484" stroke-width="1" />
<line x1="217.58" y1="352.60" x2="217.58" y2="355.00" stroke="#848484" stroke-width="1" />
<line x1="217.58" y1="452.30" x2="217.58" y2="449.90" stroke="#848484" stroke-width="1" />
<line x1="227.31" y1="352.60" x2="227.31" y2="355.00" stroke="#848484" stroke-width="1" />
<line x1="227.31" y1="452.30" x2="227.31" y2="449.90" stroke="#848484" stroke-width="1" />
<line x1="237.03" y1="352.60" x2="237.03" y2="358.10" stroke="#848484" stroke-width="1" />
<line x1="237.03" y1="452.30" x2="237.03" y2="446.80" stroke="#848484" stroke-width="1" />
<line x1="246.76" y1="352.60" x2="246.76" y2="355.00" stroke="#848484" stroke-width="1" />
<line x1="246.76" y1="452.30" x2="246.76" y2="449.90" stroke="#848484" stroke-width="1" />
<line x1="256.49" y1="352.60" x2="256.49" y2="355.00" stroke="#848484" stroke-width="1" />
<line x1="256.49" y1="452.30" x2="256.49" y2="449.90" stroke="#848484" stroke-width="1" />
<line x1="266.21" y1="352.60" x2="266.21" y2="355.00" stroke="#848484" stroke-width="1" />
<line x1="266.21" y1="452.30" x2="266.21" y2="449.90" stroke="#848484" stroke-width="1" />
<line x1="275.94" y1="352.60" x2="275.94" y2="355.00" stroke="#848484" stroke-width="1" />
<line x1="275.94" y1="452.30" x2="275.94" y2="449.90" stroke="#848484" stroke-width="1" />
<line x1="285.67" y1="352.60" x2="285.67" y2="358.10" stroke="#848484" stroke-width="1" />
<line x1="285.67" y1="452.30" x2="285.67" y2="446.80" stroke="#848484" stroke-width="1" />
<line x1="295.39" y1="352.60" x2="295.39" y2="355.00" stroke="#848484" stroke-width="1" />
<line x1="295.39" y1="452.30" x2="295.39" y2="449.90" stroke="#848484" stroke-width="1" />
<line x1="305.12" y1="352.60" x2="305.12" y2="355.00" stroke="#848484" stroke-width="1" />
<line x1="305.12" y1="452.30" x2="305.12" y2="449.90" stroke="#848484" stroke-width="1" />
<line x1="314.85" y1="352.60" x2="314.85" y2="355.00" stroke="#848484" stroke-width="1" />
<line x1="314.85" y1="452.30" x2="314.85" y2="449.90" stroke="#848484" stroke-width="1" />
<line x1="324.57" y1="352.60" x2="324.57" y2="355.00" stroke="#848484" stroke-width="1" />
<line x1="324.57" y1="452.30" x2="324.57" y2="449.90" stroke="#848484" stroke-width="1" />
<text x="38.40" y="355.60" font-size="8.4" text-anchor="end" fill="#222" stroke="#222" stroke-width="0.2">0.006</text>
<line x1="42.50" y1="366.84" x2="52.50" y2="366.84" stroke="#848484" stroke-width="1" />
<line x1="334.30" y1="366.84" x2="324.30" y2="366.84" stroke="#848484" stroke-width="1" />
<text x="38.40" y="369.84" font-size="8.4" text-anchor="end" fill="#222" stroke="#222" stroke-width="0.2">0.005</text>
<line x1="42.50" y1="381.09" x2="52.50" y2="381.09" stroke="#848484" stroke-width="1" />
<line x1="334.30" y1="381.09" x2="324.30" y2="381.09" stroke="#848484" stroke-width="1" />
<text x="38.40" y="384.09" font-size="8.4" text-anchor="end" fill="#222" stroke="#222" stroke-width="0.2">0.004</text>
<line x1="42.50" y1="395.33" x2="52.50" y2="395.33" stroke="#848484" stroke-width="1" />
<line x1="334.30" y1="395.33" x2="324.30" y2="395.33" stroke="#848484" stroke-width="1" />
<text x="38.40" y="398.33" font-size="8.4" text-anchor="end" fill="#222" stroke="#222" stroke-width="0.2">0.003</text>
<line x1="42.50" y1="409.57" x2="52.50" y2="409.57" stroke="#848484" stroke-width="1" />
<line x1="334.30" y1="409.57" x2="324.30" y2="409.57" stroke="#848484" stroke-width="1" />
<text x="38.40" y="412.57" font-size="8.4" text-anchor="end" fill="#222" stroke="#222" stroke-width="0.2">0.002</text>
<line x1="42.50" y1="423.81" x2="52.50" y2="423.81" stroke="#848484" stroke-width="1" />
<line x1="334.30" y1="423.81" x2="324.30" y2="423.81" stroke="#848484" stroke-width="1" />
<text x="38.40" y="426.81" font-size="8.4" text-anchor="end" fill="#222" stroke="#222" stroke-width="0.2">0.001</text>
<line x1="42.50" y1="438.06" x2="52.50" y2="438.06" stroke="#848484" stroke-width="1" />
<line x1="334.30" y1="438.06" x2="324.30" y2="438.06" stroke="#848484" stroke-width="1" />
<text x="38.40" y="441.06" font-size="8.4" text-anchor="end" fill="#222" stroke="#222" stroke-width="0.2">0.000</text>
<text x="38.40" y="455.30" font-size="8.4" text-anchor="end" fill="#222" stroke="#222" stroke-width="0.2">-0.001</text>
<rect x="42.5" y="352.6" width="5.0" height="99.69999999999999" fill="#c4c4c4"/>
<rect x="329.10" y="352.6" width="5.2" height="99.69999999999999" fill="#c4c4c4"/>
<rect x="42.50" y="352.60" width="291.80" height="99.70" fill="none" stroke="#707070" stroke-width="1.1"/>
<text x="42.50" y="460.60" font-size="8.4" text-anchor="middle" fill="#222" stroke="#222" stroke-width="0.2">10</text>
<text x="91.13" y="460.60" font-size="8.4" text-anchor="middle" fill="#222" stroke="#222" stroke-width="0.2">15</text>
<text x="139.77" y="460.60" font-size="8.4" text-anchor="middle" fill="#222" stroke="#222" stroke-width="0.2">20</text>
<text x="188.40" y="460.60" font-size="8.4" text-anchor="middle" fill="#222" stroke="#222" stroke-width="0.2">25</text>
<text x="237.03" y="460.60" font-size="8.4" text-anchor="middle" fill="#222" stroke="#222" stroke-width="0.2">30</text>
<text x="285.67" y="460.60" font-size="8.4" text-anchor="middle" fill="#222" stroke="#222" stroke-width="0.2">35</text>
<text x="334.30" y="460.60" font-size="8.4" text-anchor="middle" fill="#222" stroke="#222" stroke-width="0.2">40</text>
<polyline points="56.50,424.90 83.80,424.90 129.60,389.30 151.20,417.20 197.70,430.60 205.90,433.70 208.30,433.60 218.30,432.40 247.30,436.90 266.20,437.10 273.60,434.80 285.10,431.50 291.80,437.00 311.50,433.50" fill="none" stroke="#555" stroke-width="0.9"/>
<polyline points="99.80,400.40 104.10,386.90 105.80,414.00 108.30,393.30 111.90,386.90 113.80,410.80 116.80,399.40 121.00,405.70 125.70,402.30 127.20,381.40 127.70,373.40 130.60,375.40 143.20,360.50 144.00,380.90 145.50,383.70 146.60,400.80 147.60,366.40 148.60,404.40 149.80,406.20 151.50,385.10 152.20,392.30 153.40,398.40 153.90,380.50 156.10,408.00 156.70,389.30 157.30,403.20 162.10,405.60 162.10,398.40 166.30,393.00 172.90,419.20 174.90,404.80 181.10,425.40 188.40,419.20 191.50,427.50 195.60,422.30 198.70,423.40 199.70,426.50 205.90,428.50 210.40,423.00 213.50,428.00 218.30,427.10 222.70,428.00 227.10,429.80 231.50,430.70 235.10,431.50 237.70,432.40 242.20,428.00 245.70,431.50 257.00,427.40 261.50,428.00 264.70,429.80 267.40,432.40 272.70,429.80 277.10,428.90 281.60,429.70 286.00,430.70 291.60,428.50 292.20,429.90 302.00,433.50 311.50,432.20 329.30,432.20" fill="none" stroke="#3aa83a" stroke-width="0.8" stroke-opacity="0.85"/>
<line x1="53.50" y1="421.90" x2="59.50" y2="427.90" stroke="#333" stroke-width="0.8" />
<line x1="53.50" y1="427.90" x2="59.50" y2="421.90" stroke="#333" stroke-width="0.8" />
<line x1="80.80" y1="421.90" x2="86.80" y2="427.90" stroke="#333" stroke-width="0.8" />
<line x1="80.80" y1="427.90" x2="86.80" y2="421.90" stroke="#333" stroke-width="0.8" />
<line x1="126.60" y1="386.30" x2="132.60" y2="392.30" stroke="#333" stroke-width="0.8" />
<line x1="126.60" y1="392.30" x2="132.60" y2="386.30" stroke="#333" stroke-width="0.8" />
<line x1="148.20" y1="414.20" x2="154.20" y2="420.20" stroke="#333" stroke-width="0.8" />
<line x1="148.20" y1="420.20" x2="154.20" y2="414.20" stroke="#333" stroke-width="0.8" />
<line x1="194.70" y1="427.60" x2="200.70" y2="433.60" stroke="#333" stroke-width="0.8" />
<line x1="194.70" y1="433.60" x2="200.70" y2="427.60" stroke="#333" stroke-width="0.8" />
<line x1="202.90" y1="430.70" x2="208.90" y2="436.70" stroke="#333" stroke-width="0.8" />
<line x1="202.90" y1="436.70" x2="208.90" y2="430.70" stroke="#333" stroke-width="0.8" />
<line x1="205.30" y1="430.60" x2="211.30" y2="436.60" stroke="#333" stroke-width="0.8" />
<line x1="205.30" y1="436.60" x2="211.30" y2="430.60" stroke="#333" stroke-width="0.8" />
<line x1="215.30" y1="429.40" x2="221.30" y2="435.40" stroke="#333" stroke-width="0.8" />
<line x1="215.30" y1="435.40" x2="221.30" y2="429.40" stroke="#333" stroke-width="0.8" />
<line x1="244.30" y1="433.90" x2="250.30" y2="439.90" stroke="#333" stroke-width="0.8" />
<line x1="244.30" y1="439.90" x2="250.30" y2="433.90" stroke="#333" stroke-width="0.8" />
<line x1="263.20" y1="434.10" x2="269.20" y2="440.10" stroke="#333" stroke-width="0.8" />
<line x1="263.20" y1="440.10" x2="269.20" y2="434.10" stroke="#333" stroke-width="0.8" />
<line x1="270.60" y1="431.80" x2="276.60" y2="437.80" stroke="#333" stroke-width="0.8" />
<line x1="270.60" y1="437.80" x2="276.60" y2="431.80" stroke="#333" stroke-width="0.8" />
<line x1="282.10" y1="428.50" x2="288.10" y2="434.50" stroke="#333" stroke-width="0.8" />
<line x1="282.10" y1="434.50" x2="288.10" y2="428.50" stroke="#333" stroke-width="0.8" />
<line x1="288.80" y1="434.00" x2="294.80" y2="440.00" stroke="#333" stroke-width="0.8" />
<line x1="288.80" y1="440.00" x2="294.80" y2="434.00" stroke="#333" stroke-width="0.8" />
<line x1="308.50" y1="430.50" x2="314.50" y2="436.50" stroke="#333" stroke-width="0.8" />
<line x1="308.50" y1="436.50" x2="314.50" y2="430.50" stroke="#333" stroke-width="0.8" />
<path d="M99.80,400.40L99.80,397.80M99.80,400.40L102.27,399.60M99.80,400.40L101.33,402.50M99.80,400.40L98.27,402.50M99.80,400.40L97.33,399.60" stroke="#3c9c3c" stroke-width="0.75" fill="none" stroke-linecap="round"/>
<circle cx="99.80" cy="400.40" r="0.8" fill="#2a7a2a"/>
<path d="M104.10,386.90L104.10,384.30M104.10,386.90L106.57,386.10M104.10,386.90L105.63,389.00M104.10,386.90L102.57,389.00M104.10,386.90L101.63,386.10" stroke="#3c9c3c" stroke-width="0.75" fill="none" stroke-linecap="round"/>
<circle cx="104.10" cy="386.90" r="0.8" fill="#2a7a2a"/>
<path d="M105.80,414.00L105.80,411.40M105.80,414.00L108.27,413.20M105.80,414.00L107.33,416.10M105.80,414.00L104.27,416.10M105.80,414.00L103.33,413.20" stroke="#3c9c3c" stroke-width="0.75" fill="none" stroke-linecap="round"/>
<circle cx="105.80" cy="414.00" r="0.8" fill="#2a7a2a"/>
<path d="M108.30,393.30L108.30,390.70M108.30,393.30L110.77,392.50M108.30,393.30L109.83,395.40M108.30,393.30L106.77,395.40M108.30,393.30L105.83,392.50" stroke="#3c9c3c" stroke-width="0.75" fill="none" stroke-linecap="round"/>
<circle cx="108.30" cy="393.30" r="0.8" fill="#2a7a2a"/>
<path d="M111.90,386.90L111.90,384.30M111.90,386.90L114.37,386.10M111.90,386.90L113.43,389.00M111.90,386.90L110.37,389.00M111.90,386.90L109.43,386.10" stroke="#3c9c3c" stroke-width="0.75" fill="none" stroke-linecap="round"/>
<circle cx="111.90" cy="386.90" r="0.8" fill="#2a7a2a"/>
<path d="M113.80,410.80L113.80,408.20M113.80,410.80L116.27,410.00M113.80,410.80L115.33,412.90M113.80,410.80L112.27,412.90M113.80,410.80L111.33,410.00" stroke="#3c9c3c" stroke-width="0.75" fill="none" stroke-linecap="round"/>
<circle cx="113.80" cy="410.80" r="0.8" fill="#2a7a2a"/>
<path d="M116.80,399.40L116.80,396.80M116.80,399.40L119.27,398.60M116.80,399.40L118.33,401.50M116.80,399.40L115.27,401.50M116.80,399.40L114.33,398.60" stroke="#3c9c3c" stroke-width="0.75" fill="none" stroke-linecap="round"/>
<circle cx="116.80" cy="399.40" r="0.8" fill="#2a7a2a"/>
<path d="M121.00,405.70L121.00,403.10M121.00,405.70L123.47,404.90M121.00,405.70L122.53,407.80M121.00,405.70L119.47,407.80M121.00,405.70L118.53,404.90" stroke="#3c9c3c" stroke-width="0.75" fill="none" stroke-linecap="round"/>
<circle cx="121.00" cy="405.70" r="0.8" fill="#2a7a2a"/>
<path d="M125.70,402.30L125.70,399.70M125.70,402.30L128.17,401.50M125.70,402.30L127.23,404.40M125.70,402.30L124.17,404.40M125.70,402.30L123.23,401.50" stroke="#3c9c3c" stroke-width="0.75" fill="none" stroke-linecap="round"/>
<circle cx="125.70" cy="402.30" r="0.8" fill="#2a7a2a"/>
<path d="M127.20,381.40L127.20,378.80M127.20,381.40L129.67,380.60M127.20,381.40L128.73,383.50M127.20,381.40L125.67,383.50M127.20,381.40L124.73,380.60" stroke="#3c9c3c" stroke-width="0.75" fill="none" stroke-linecap="round"/>
<circle cx="127.20" cy="381.40" r="0.8" fill="#2a7a2a"/>
<path d="M127.70,373.40L127.70,370.80M127.70,373.40L130.17,372.60M127.70,373.40L129.23,375.50M127.70,373.40L126.17,375.50M127.70,373.40L125.23,372.60" stroke="#3c9c3c" stroke-width="0.75" fill="none" stroke-linecap="round"/>
<circle cx="127.70" cy="373.40" r="0.8" fill="#2a7a2a"/>
<path d="M130.60,375.40L130.60,372.80M130.60,375.40L133.07,374.60M130.60,375.40L132.13,377.50M130.60,375.40L129.07,377.50M130.60,375.40L128.13,374.60" stroke="#3c9c3c" stroke-width="0.75" fill="none" stroke-linecap="round"/>
<circle cx="130.60" cy="375.40" r="0.8" fill="#2a7a2a"/>
<path d="M143.20,360.50L143.20,357.90M143.20,360.50L145.67,359.70M143.20,360.50L144.73,362.60M143.20,360.50L141.67,362.60M143.20,360.50L140.73,359.70" stroke="#3c9c3c" stroke-width="0.75" fill="none" stroke-linecap="round"/>
<circle cx="143.20" cy="360.50" r="0.8" fill="#2a7a2a"/>
<path d="M144.00,380.90L144.00,378.30M144.00,380.90L146.47,380.10M144.00,380.90L145.53,383.00M144.00,380.90L142.47,383.00M144.00,380.90L141.53,380.10" stroke="#3c9c3c" stroke-width="0.75" fill="none" stroke-linecap="round"/>
<circle cx="144.00" cy="380.90" r="0.8" fill="#2a7a2a"/>
<path d="M145.50,383.70L145.50,381.10M145.50,383.70L147.97,382.90M145.50,383.70L147.03,385.80M145.50,383.70L143.97,385.80M145.50,383.70L143.03,382.90" stroke="#3c9c3c" stroke-width="0.75" fill="none" stroke-linecap="round"/>
<circle cx="145.50" cy="383.70" r="0.8" fill="#2a7a2a"/>
<path d="M146.60,400.80L146.60,398.20M146.60,400.80L149.07,400.00M146.60,400.80L148.13,402.90M146.60,400.80L145.07,402.90M146.60,400.80L144.13,400.00" stroke="#3c9c3c" stroke-width="0.75" fill="none" stroke-linecap="round"/>
<circle cx="146.60" cy="400.80" r="0.8" fill="#2a7a2a"/>
<path d="M147.60,366.40L147.60,363.80M147.60,366.40L150.07,365.60M147.60,366.40L149.13,368.50M147.60,366.40L146.07,368.50M147.60,366.40L145.13,365.60" stroke="#3c9c3c" stroke-width="0.75" fill="none" stroke-linecap="round"/>
<circle cx="147.60" cy="366.40" r="0.8" fill="#2a7a2a"/>
<path d="M148.60,404.40L148.60,401.80M148.60,404.40L151.07,403.60M148.60,404.40L150.13,406.50M148.60,404.40L147.07,406.50M148.60,404.40L146.13,403.60" stroke="#3c9c3c" stroke-width="0.75" fill="none" stroke-linecap="round"/>
<circle cx="148.60" cy="404.40" r="0.8" fill="#2a7a2a"/>
<path d="M149.80,406.20L149.80,403.60M149.80,406.20L152.27,405.40M149.80,406.20L151.33,408.30M149.80,406.20L148.27,408.30M149.80,406.20L147.33,405.40" stroke="#3c9c3c" stroke-width="0.75" fill="none" stroke-linecap="round"/>
<circle cx="149.80" cy="406.20" r="0.8" fill="#2a7a2a"/>
<path d="M151.50,385.10L151.50,382.50M151.50,385.10L153.97,384.30M151.50,385.10L153.03,387.20M151.50,385.10L149.97,387.20M151.50,385.10L149.03,384.30" stroke="#3c9c3c" stroke-width="0.75" fill="none" stroke-linecap="round"/>
<circle cx="151.50" cy="385.10" r="0.8" fill="#2a7a2a"/>
<path d="M152.20,392.30L152.20,389.70M152.20,392.30L154.67,391.50M152.20,392.30L153.73,394.40M152.20,392.30L150.67,394.40M152.20,392.30L149.73,391.50" stroke="#3c9c3c" stroke-width="0.75" fill="none" stroke-linecap="round"/>
<circle cx="152.20" cy="392.30" r="0.8" fill="#2a7a2a"/>
<path d="M153.40,398.40L153.40,395.80M153.40,398.40L155.87,397.60M153.40,398.40L154.93,400.50M153.40,398.40L151.87,400.50M153.40,398.40L150.93,397.60" stroke="#3c9c3c" stroke-width="0.75" fill="none" stroke-linecap="round"/>
<circle cx="153.40" cy="398.40" r="0.8" fill="#2a7a2a"/>
<path d="M153.90,380.50L153.90,377.90M153.90,380.50L156.37,379.70M153.90,380.50L155.43,382.60M153.90,380.50L152.37,382.60M153.90,380.50L151.43,379.70" stroke="#3c9c3c" stroke-width="0.75" fill="none" stroke-linecap="round"/>
<circle cx="153.90" cy="380.50" r="0.8" fill="#2a7a2a"/>
<path d="M156.10,408.00L156.10,405.40M156.10,408.00L158.57,407.20M156.10,408.00L157.63,410.10M156.10,408.00L154.57,410.10M156.10,408.00L153.63,407.20" stroke="#3c9c3c" stroke-width="0.75" fill="none" stroke-linecap="round"/>
<circle cx="156.10" cy="408.00" r="0.8" fill="#2a7a2a"/>
<path d="M156.70,389.30L156.70,386.70M156.70,389.30L159.17,388.50M156.70,389.30L158.23,391.40M156.70,389.30L155.17,391.40M156.70,389.30L154.23,388.50" stroke="#3c9c3c" stroke-width="0.75" fill="none" stroke-linecap="round"/>
<circle cx="156.70" cy="389.30" r="0.8" fill="#2a7a2a"/>
<path d="M157.30,403.20L157.30,400.60M157.30,403.20L159.77,402.40M157.30,403.20L158.83,405.30M157.30,403.20L155.77,405.30M157.30,403.20L154.83,402.40" stroke="#3c9c3c" stroke-width="0.75" fill="none" stroke-linecap="round"/>
<circle cx="157.30" cy="403.20" r="0.8" fill="#2a7a2a"/>
<path d="M162.10,405.60L162.10,403.00M162.10,405.60L164.57,404.80M162.10,405.60L163.63,407.70M162.10,405.60L160.57,407.70M162.10,405.60L159.63,404.80" stroke="#3c9c3c" stroke-width="0.75" fill="none" stroke-linecap="round"/>
<circle cx="162.10" cy="405.60" r="0.8" fill="#2a7a2a"/>
<path d="M162.10,398.40L162.10,395.80M162.10,398.40L164.57,397.60M162.10,398.40L163.63,400.50M162.10,398.40L160.57,400.50M162.10,398.40L159.63,397.60" stroke="#3c9c3c" stroke-width="0.75" fill="none" stroke-linecap="round"/>
<circle cx="162.10" cy="398.40" r="0.8" fill="#2a7a2a"/>
<path d="M166.30,393.00L166.30,390.40M166.30,393.00L168.77,392.20M166.30,393.00L167.83,395.10M166.30,393.00L164.77,395.10M166.30,393.00L163.83,392.20" stroke="#3c9c3c" stroke-width="0.75" fill="none" stroke-linecap="round"/>
<circle cx="166.30" cy="393.00" r="0.8" fill="#2a7a2a"/>
<path d="M172.90,419.20L172.90,416.60M172.90,419.20L175.37,418.40M172.90,419.20L174.43,421.30M172.90,419.20L171.37,421.30M172.90,419.20L170.43,418.40" stroke="#3c9c3c" stroke-width="0.75" fill="none" stroke-linecap="round"/>
<circle cx="172.90" cy="419.20" r="0.8" fill="#2a7a2a"/>
<path d="M174.90,404.80L174.90,402.20M174.90,404.80L177.37,404.00M174.90,404.80L176.43,406.90M174.90,404.80L173.37,406.90M174.90,404.80L172.43,404.00" stroke="#3c9c3c" stroke-width="0.75" fill="none" stroke-linecap="round"/>
<circle cx="174.90" cy="404.80" r="0.8" fill="#2a7a2a"/>
<path d="M181.10,425.40L181.10,422.80M181.10,425.40L183.57,424.60M181.10,425.40L182.63,427.50M181.10,425.40L179.57,427.50M181.10,425.40L178.63,424.60" stroke="#3c9c3c" stroke-width="0.75" fill="none" stroke-linecap="round"/>
<circle cx="181.10" cy="425.40" r="0.8" fill="#2a7a2a"/>
<path d="M188.40,419.20L188.40,416.60M188.40,419.20L190.87,418.40M188.40,419.20L189.93,421.30M188.40,419.20L186.87,421.30M188.40,419.20L185.93,418.40" stroke="#3c9c3c" stroke-width="0.75" fill="none" stroke-linecap="round"/>
<circle cx="188.40" cy="419.20" r="0.8" fill="#2a7a2a"/>
<path d="M191.50,427.50L191.50,424.90M191.50,427.50L193.97,426.70M191.50,427.50L193.03,429.60M191.50,427.50L189.97,429.60M191.50,427.50L189.03,426.70" stroke="#3c9c3c" stroke-width="0.75" fill="none" stroke-linecap="round"/>
<circle cx="191.50" cy="427.50" r="0.8" fill="#2a7a2a"/>
<path d="M195.60,422.30L195.60,419.70M195.60,422.30L198.07,421.50M195.60,422.30L197.13,424.40M195.60,422.30L194.07,424.40M195.60,422.30L193.13,421.50" stroke="#3c9c3c" stroke-width="0.75" fill="none" stroke-linecap="round"/>
<circle cx="195.60" cy="422.30" r="0.8" fill="#2a7a2a"/>
<path d="M198.70,423.40L198.70,420.80M198.70,423.40L201.17,422.60M198.70,423.40L200.23,425.50M198.70,423.40L197.17,425.50M198.70,423.40L196.23,422.60" stroke="#3c9c3c" stroke-width="0.75" fill="none" stroke-linecap="round"/>
<circle cx="198.70" cy="423.40" r="0.8" fill="#2a7a2a"/>
<path d="M199.70,426.50L199.70,423.90M199.70,426.50L202.17,425.70M199.70,426.50L201.23,428.60M199.70,426.50L198.17,428.60M199.70,426.50L197.23,425.70" stroke="#3c9c3c" stroke-width="0.75" fill="none" stroke-linecap="round"/>
<circle cx="199.70" cy="426.50" r="0.8" fill="#2a7a2a"/>
<path d="M205.90,428.50L205.90,425.90M205.90,428.50L208.37,427.70M205.90,428.50L207.43,430.60M205.90,428.50L204.37,430.60M205.90,428.50L203.43,427.70" stroke="#3c9c3c" stroke-width="0.75" fill="none" stroke-linecap="round"/>
<circle cx="205.90" cy="428.50" r="0.8" fill="#2a7a2a"/>
<path d="M210.40,423.00L210.40,420.40M210.40,423.00L212.87,422.20M210.40,423.00L211.93,425.10M210.40,423.00L208.87,425.10M210.40,423.00L207.93,422.20" stroke="#3c9c3c" stroke-width="0.75" fill="none" stroke-linecap="round"/>
<circle cx="210.40" cy="423.00" r="0.8" fill="#2a7a2a"/>
<path d="M213.50,428.00L213.50,425.40M213.50,428.00L215.97,427.20M213.50,428.00L215.03,430.10M213.50,428.00L211.97,430.10M213.50,428.00L211.03,427.20" stroke="#3c9c3c" stroke-width="0.75" fill="none" stroke-linecap="round"/>
<circle cx="213.50" cy="428.00" r="0.8" fill="#2a7a2a"/>
<path d="M218.30,427.10L218.30,424.50M218.30,427.10L220.77,426.30M218.30,427.10L219.83,429.20M218.30,427.10L216.77,429.20M218.30,427.10L215.83,426.30" stroke="#3c9c3c" stroke-width="0.75" fill="none" stroke-linecap="round"/>
<circle cx="218.30" cy="427.10" r="0.8" fill="#2a7a2a"/>
<path d="M222.70,428.00L222.70,425.40M222.70,428.00L225.17,427.20M222.70,428.00L224.23,430.10M222.70,428.00L221.17,430.10M222.70,428.00L220.23,427.20" stroke="#3c9c3c" stroke-width="0.75" fill="none" stroke-linecap="round"/>
<circle cx="222.70" cy="428.00" r="0.8" fill="#2a7a2a"/>
<path d="M227.10,429.80L227.10,427.20M227.10,429.80L229.57,429.00M227.10,429.80L228.63,431.90M227.10,429.80L225.57,431.90M227.10,429.80L224.63,429.00" stroke="#3c9c3c" stroke-width="0.75" fill="none" stroke-linecap="round"/>
<circle cx="227.10" cy="429.80" r="0.8" fill="#2a7a2a"/>
<path d="M231.50,430.70L231.50,428.10M231.50,430.70L233.97,429.90M231.50,430.70L233.03,432.80M231.50,430.70L229.97,432.80M231.50,430.70L229.03,429.90" stroke="#3c9c3c" stroke-width="0.75" fill="none" stroke-linecap="round"/>
<circle cx="231.50" cy="430.70" r="0.8" fill="#2a7a2a"/>
<path d="M235.10,431.50L235.10,428.90M235.10,431.50L237.57,430.70M235.10,431.50L236.63,433.60M235.10,431.50L233.57,433.60M235.10,431.50L232.63,430.70" stroke="#3c9c3c" stroke-width="0.75" fill="none" stroke-linecap="round"/>
<circle cx="235.10" cy="431.50" r="0.8" fill="#2a7a2a"/>
<path d="M237.70,432.40L237.70,429.80M237.70,432.40L240.17,431.60M237.70,432.40L239.23,434.50M237.70,432.40L236.17,434.50M237.70,432.40L235.23,431.60" stroke="#3c9c3c" stroke-width="0.75" fill="none" stroke-linecap="round"/>
<circle cx="237.70" cy="432.40" r="0.8" fill="#2a7a2a"/>
<path d="M242.20,428.00L242.20,425.40M242.20,428.00L244.67,427.20M242.20,428.00L243.73,430.10M242.20,428.00L240.67,430.10M242.20,428.00L239.73,427.20" stroke="#3c9c3c" stroke-width="0.75" fill="none" stroke-linecap="round"/>
<circle cx="242.20" cy="428.00" r="0.8" fill="#2a7a2a"/>
<path d="M245.70,431.50L245.70,428.90M245.70,431.50L248.17,430.70M245.70,431.50L247.23,433.60M245.70,431.50L244.17,433.60M245.70,431.50L243.23,430.70" stroke="#3c9c3c" stroke-width="0.75" fill="none" stroke-linecap="round"/>
<circle cx="245.70" cy="431.50" r="0.8" fill="#2a7a2a"/>
<path d="M257.00,427.40L257.00,424.80M257.00,427.40L259.47,426.60M257.00,427.40L258.53,429.50M257.00,427.40L255.47,429.50M257.00,427.40L254.53,426.60" stroke="#3c9c3c" stroke-width="0.75" fill="none" stroke-linecap="round"/>
<circle cx="257.00" cy="427.40" r="0.8" fill="#2a7a2a"/>
<path d="M261.50,428.00L261.50,425.40M261.50,428.00L263.97,427.20M261.50,428.00L263.03,430.10M261.50,428.00L259.97,430.10M261.50,428.00L259.03,427.20" stroke="#3c9c3c" stroke-width="0.75" fill="none" stroke-linecap="round"/>
<circle cx="261.50" cy="428.00" r="0.8" fill="#2a7a2a"/>
<path d="M264.70,429.80L264.70,427.20M264.70,429.80L267.17,429.00M264.70,429.80L266.23,431.90M264.70,429.80L263.17,431.90M264.70,429.80L262.23,429.00" stroke="#3c9c3c" stroke-width="0.75" fill="none" stroke-linecap="round"/>
<circle cx="264.70" cy="429.80" r="0.8" fill="#2a7a2a"/>
<path d="M267.40,432.40L267.40,429.80M267.40,432.40L269.87,431.60M267.40,432.40L268.93,434.50M267.40,432.40L265.87,434.50M267.40,432.40L264.93,431.60" stroke="#3c9c3c" stroke-width="0.75" fill="none" stroke-linecap="round"/>
<circle cx="267.40" cy="432.40" r="0.8" fill="#2a7a2a"/>
<path d="M272.70,429.80L272.70,427.20M272.70,429.80L275.17,429.00M272.70,429.80L274.23,431.90M272.70,429.80L271.17,431.90M272.70,429.80L270.23,429.00" stroke="#3c9c3c" stroke-width="0.75" fill="none" stroke-linecap="round"/>
<circle cx="272.70" cy="429.80" r="0.8" fill="#2a7a2a"/>
<path d="M277.10,428.90L277.10,426.30M277.10,428.90L279.57,428.10M277.10,428.90L278.63,431.00M277.10,428.90L275.57,431.00M277.10,428.90L274.63,428.10" stroke="#3c9c3c" stroke-width="0.75" fill="none" stroke-linecap="round"/>
<circle cx="277.10" cy="428.90" r="0.8" fill="#2a7a2a"/>
<path d="M281.60,429.70L281.60,427.10M281.60,429.70L284.07,428.90M281.60,429.70L283.13,431.80M281.60,429.70L280.07,431.80M281.60,429.70L279.13,428.90" stroke="#3c9c3c" stroke-width="0.75" fill="none" stroke-linecap="round"/>
<circle cx="281.60" cy="429.70" r="0.8" fill="#2a7a2a"/>
<path d="M286.00,430.70L286.00,428.10M286.00,430.70L288.47,429.90M286.00,430.70L287.53,432.80M286.00,430.70L284.47,432.80M286.00,430.70L283.53,429.90" stroke="#3c9c3c" stroke-width="0.75" fill="none" stroke-linecap="round"/>
<circle cx="286.00" cy="430.70" r="0.8" fill="#2a7a2a"/>
<path d="M291.60,428.50L291.60,425.90M291.60,428.50L294.07,427.70M291.60,428.50L293.13,430.60M291.60,428.50L290.07,430.60M291.60,428.50L289.13,427.70" stroke="#3c9c3c" stroke-width="0.75" fill="none" stroke-linecap="round"/>
<circle cx="291.60" cy="428.50" r="0.8" fill="#2a7a2a"/>
<path d="M292.20,429.90L292.20,427.30M292.20,429.90L294.67,429.10M292.20,429.90L293.73,432.00M292.20,429.90L290.67,432.00M292.20,429.90L289.73,429.10" stroke="#3c9c3c" stroke-width="0.75" fill="none" stroke-linecap="round"/>
<circle cx="292.20" cy="429.90" r="0.8" fill="#2a7a2a"/>
<path d="M302.00,433.50L302.00,430.90M302.00,433.50L304.47,432.70M302.00,433.50L303.53,435.60M302.00,433.50L300.47,435.60M302.00,433.50L299.53,432.70" stroke="#3c9c3c" stroke-width="0.75" fill="none" stroke-linecap="round"/>
<circle cx="302.00" cy="433.50" r="0.8" fill="#2a7a2a"/>
<path d="M311.50,432.20L311.50,429.60M311.50,432.20L313.97,431.40M311.50,432.20L313.03,434.30M311.50,432.20L309.97,434.30M311.50,432.20L309.03,431.40" stroke="#3c9c3c" stroke-width="0.75" fill="none" stroke-linecap="round"/>
<circle cx="311.50" cy="432.20" r="0.8" fill="#2a7a2a"/>
<line x1="258.00" y1="362.10" x2="265.00" y2="369.10" stroke="#333" stroke-width="0.8" />
<line x1="258.00" y1="369.10" x2="265.00" y2="362.10" stroke="#333" stroke-width="0.8" />
<text x="270.30" y="369.30" font-size="9.9" text-anchor="start" fill="#1a1a1a"  textLength="46.0" lengthAdjust="spacingAndGlyphs" stroke="#1a1a1a" stroke-width="0.25">Swift XRT</text>
<path d="M261.60,380.30L261.60,376.70M261.60,380.30L265.02,379.19M261.60,380.30L263.72,383.21M261.60,380.30L259.48,383.21M261.60,380.30L258.18,379.19" stroke="#3c9c3c" stroke-width="0.8" fill="none" stroke-linecap="round"/>
<circle cx="261.60" cy="380.30" r="0.8" fill="#2a7a2a"/>
<text x="270.30" y="384.20" font-size="9.9" text-anchor="start" fill="#22922a"  textLength="30.4" lengthAdjust="spacingAndGlyphs" stroke="#22922a" stroke-width="0.25">NICER</text>
<text transform="translate(10.5,401.8) rotate(-90)" font-size="9.9" stroke="#222" stroke-width="0.2" text-anchor="middle" fill="#222">Counts s<tspan dy="-4.6" font-size="5.8">−1</tspan><tspan dy="4.6"> cm</tspan><tspan dy="-4.6" font-size="5.8">−2</tspan><tspan dy="4.6"> [0.5-10 keV]</tspan></text>
<text x="187.20" y="470.60" font-size="8.9" text-anchor="middle" fill="#1a1a1a"  textLength="47.6" lengthAdjust="spacingAndGlyphs" stroke="#1a1a1a" stroke-width="0.25">MJD-59200</text></g></svg>
</body></html>
